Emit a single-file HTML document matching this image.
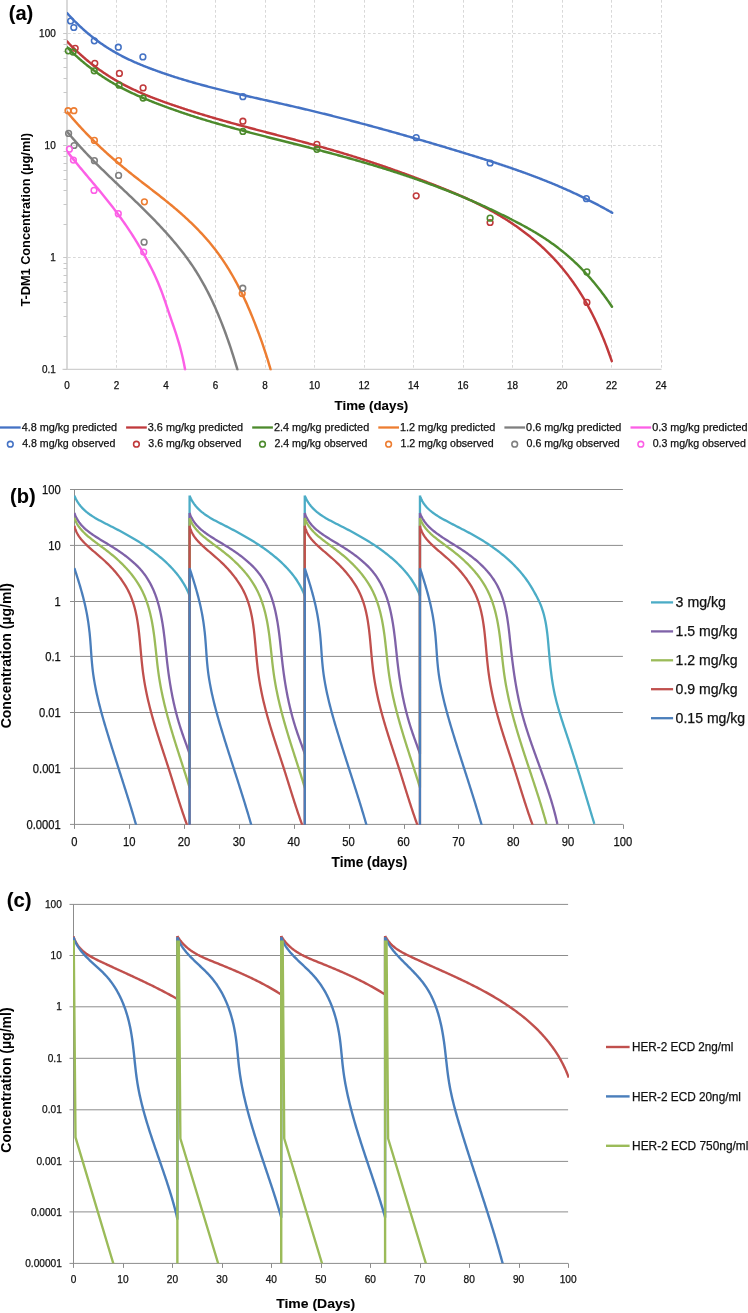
<!DOCTYPE html>
<html><head><meta charset="utf-8"><style>html,body{margin:0;padding:0;background:#fff;width:748px;height:1313px;overflow:hidden}svg{display:block;will-change:transform;opacity:0.999}</style></head>
<body><svg width="748" height="1313" viewBox="0 0 748 1313" font-family='"Liberation Sans", sans-serif'><rect width="100%" height="100%" fill="#fff"/><path d="M116.5,0.0 V369.4 M166.5,0.0 V369.4 M215.5,0.0 V369.4 M265.5,0.0 V369.4 M314.5,0.0 V369.4 M364.5,0.0 V369.4 M413.5,0.0 V369.4 M463.5,0.0 V369.4 M512.5,0.0 V369.4 M562.5,0.0 V369.4 M611.5,0.0 V369.4 M661.5,0.0 V369.4 M63.0,257.5 H661.5 M63.0,145.5 H661.5 M63.0,33.5 H661.5" stroke="#d8d8d8" stroke-width="1" stroke-dasharray="2.7,2.3" fill="none"/>
<path d="M67,0 V370" stroke="#d9d9d9" stroke-width="2" fill="none"/>
<path d="M62.5,369.4 H661.5" stroke="#d0d0d0" stroke-width="1.2" fill="none"/>
<path d="M63.5,369.5 H67 M63.5,336.5 H67 M63.5,316.5 H67 M63.5,302.5 H67 M63.5,291.5 H67 M63.5,282.5 H67 M63.5,275.5 H67 M63.5,268.5 H67 M63.5,263.5 H67 M63.5,257.5 H67 M63.5,224.5 H67 M63.5,204.5 H67 M63.5,190.5 H67 M63.5,179.5 H67 M63.5,170.5 H67 M63.5,163.5 H67 M63.5,156.5 H67 M63.5,151.5 H67 M63.5,145.5 H67 M63.5,112.5 H67 M63.5,92.5 H67 M63.5,78.5 H67 M63.5,67.5 H67 M63.5,58.5 H67 M63.5,51.5 H67 M63.5,44.5 H67 M63.5,39.5 H67 M63.5,33.5 H67" stroke="#c8c8c8" stroke-width="1" fill="none"/>
<text x="55.7" y="37.0" font-size="10.00" text-anchor="end" font-weight="normal" fill="#111" stroke="#111" stroke-width="0.25" textLength="16.6" lengthAdjust="spacingAndGlyphs">100</text>
<text x="55.7" y="149.0" font-size="10.00" text-anchor="end" font-weight="normal" fill="#111" stroke="#111" stroke-width="0.25" textLength="11.1" lengthAdjust="spacingAndGlyphs">10</text>
<text x="55.7" y="261.0" font-size="10.00" text-anchor="end" font-weight="normal" fill="#111" stroke="#111" stroke-width="0.25" textLength="5.5" lengthAdjust="spacingAndGlyphs">1</text>
<text x="55.7" y="373.0" font-size="10.00" text-anchor="end" font-weight="normal" fill="#111" stroke="#111" stroke-width="0.25" textLength="13.8" lengthAdjust="spacingAndGlyphs">0.1</text>
<text x="67.0" y="388.6" font-size="10.00" text-anchor="middle" font-weight="normal" fill="#111" stroke="#111" stroke-width="0.25" textLength="5.5" lengthAdjust="spacingAndGlyphs">0</text>
<text x="116.5" y="388.6" font-size="10.00" text-anchor="middle" font-weight="normal" fill="#111" stroke="#111" stroke-width="0.25" textLength="5.5" lengthAdjust="spacingAndGlyphs">2</text>
<text x="166.0" y="388.6" font-size="10.00" text-anchor="middle" font-weight="normal" fill="#111" stroke="#111" stroke-width="0.25" textLength="5.5" lengthAdjust="spacingAndGlyphs">4</text>
<text x="215.5" y="388.6" font-size="10.00" text-anchor="middle" font-weight="normal" fill="#111" stroke="#111" stroke-width="0.25" textLength="5.5" lengthAdjust="spacingAndGlyphs">6</text>
<text x="265.0" y="388.6" font-size="10.00" text-anchor="middle" font-weight="normal" fill="#111" stroke="#111" stroke-width="0.25" textLength="5.5" lengthAdjust="spacingAndGlyphs">8</text>
<text x="314.5" y="388.6" font-size="10.00" text-anchor="middle" font-weight="normal" fill="#111" stroke="#111" stroke-width="0.25" textLength="11.1" lengthAdjust="spacingAndGlyphs">10</text>
<text x="364.0" y="388.6" font-size="10.00" text-anchor="middle" font-weight="normal" fill="#111" stroke="#111" stroke-width="0.25" textLength="11.1" lengthAdjust="spacingAndGlyphs">12</text>
<text x="413.5" y="388.6" font-size="10.00" text-anchor="middle" font-weight="normal" fill="#111" stroke="#111" stroke-width="0.25" textLength="11.1" lengthAdjust="spacingAndGlyphs">14</text>
<text x="463.0" y="388.6" font-size="10.00" text-anchor="middle" font-weight="normal" fill="#111" stroke="#111" stroke-width="0.25" textLength="11.1" lengthAdjust="spacingAndGlyphs">16</text>
<text x="512.5" y="388.6" font-size="10.00" text-anchor="middle" font-weight="normal" fill="#111" stroke="#111" stroke-width="0.25" textLength="11.1" lengthAdjust="spacingAndGlyphs">18</text>
<text x="562.0" y="388.6" font-size="10.00" text-anchor="middle" font-weight="normal" fill="#111" stroke="#111" stroke-width="0.25" textLength="11.1" lengthAdjust="spacingAndGlyphs">20</text>
<text x="611.5" y="388.6" font-size="10.00" text-anchor="middle" font-weight="normal" fill="#111" stroke="#111" stroke-width="0.25" textLength="11.1" lengthAdjust="spacingAndGlyphs">22</text>
<text x="661.0" y="388.6" font-size="10.00" text-anchor="middle" font-weight="normal" fill="#111" stroke="#111" stroke-width="0.25" textLength="11.1" lengthAdjust="spacingAndGlyphs">24</text>
<text x="371.4" y="410.3" font-size="13.50" text-anchor="middle" font-weight="bold" fill="#000" stroke="#000" stroke-width="0.10" textLength="73.6" lengthAdjust="spacingAndGlyphs">Time (days)</text>
<text transform="translate(30.2,219.8) rotate(-90)" font-size="13.40" text-anchor="middle" font-weight="bold" textLength="173.6" lengthAdjust="spacingAndGlyphs">T-DM1 Concentration (µg/ml)</text>
<text x="8.8" y="19.8" font-size="20.00" text-anchor="start" font-weight="bold" fill="#000" stroke="#000" stroke-width="0.10" textLength="24.5" lengthAdjust="spacingAndGlyphs">(a)</text>
<clipPath id="ca"><rect x="67" y="0" width="600" height="370.4"/></clipPath>
<g clip-path="url(#ca)" fill="none" stroke-width="2.45" stroke-linecap="round" stroke-linejoin="round">
<path d="M67.00,13.00 L68.00,14.11 L69.00,15.21 L70.00,16.29 L71.00,17.36 L72.00,18.41 L73.00,19.45 L74.00,20.48 L75.00,21.49 L76.00,22.49 L77.00,23.47 L78.00,24.44 L79.00,25.40 L80.00,26.34 L81.00,27.27 L82.00,28.19 L83.00,29.10 L84.00,29.99 L85.00,30.87 L86.00,31.74 L87.00,32.60 L88.00,33.44 L89.00,34.27 L90.00,35.10 L91.00,35.91 L92.00,36.70 L93.00,37.49 L94.00,38.27 L95.00,39.03 L96.00,39.79 L97.00,40.53 L98.00,41.26 L99.00,41.99 L100.00,42.70 L101.00,43.40 L102.00,44.09 L103.00,44.77 L104.00,45.45 L105.00,46.11 L106.00,46.76 L107.00,47.41 L108.00,48.04 L109.00,48.67 L110.00,49.29 L111.00,49.90 L112.00,50.50 L113.00,51.09 L114.00,51.67 L115.00,52.25 L116.00,52.82 L117.00,53.38 L118.00,53.93 L119.00,54.47 L120.00,55.01 L121.00,55.54 L122.00,56.06 L123.00,56.58 L124.00,57.08 L125.00,57.59 L126.00,58.08 L127.00,58.57 L128.00,59.05 L129.00,59.53 L130.00,60.00 L131.00,60.47 L132.00,60.92 L133.00,61.38 L134.00,61.83 L135.00,62.27 L136.00,62.71 L137.00,63.14 L138.00,63.57 L139.00,63.99 L140.00,64.41 L141.00,64.82 L142.00,65.23 L143.00,65.63 L144.00,66.04 L145.00,66.43 L146.00,66.83 L147.00,67.22 L148.00,67.60 L149.00,67.99 L150.00,68.37 L151.00,68.74 L152.00,69.12 L153.00,69.49 L154.00,69.86 L155.00,70.22 L156.00,70.59 L157.00,70.95 L158.00,71.31 L159.00,71.66 L160.00,72.02 L161.00,72.37 L162.00,72.72 L163.00,73.06 L164.00,73.41 L165.00,73.75 L166.00,74.09 L167.00,74.43 L168.00,74.76 L169.00,75.09 L170.00,75.43 L171.00,75.75 L172.00,76.08 L173.00,76.40 L174.00,76.73 L175.00,77.05 L176.00,77.36 L177.00,77.68 L178.00,77.99 L179.00,78.31 L180.00,78.62 L181.00,78.92 L182.00,79.23 L183.00,79.53 L184.00,79.84 L185.00,80.14 L186.00,80.43 L187.00,80.73 L188.00,81.03 L189.00,81.32 L190.00,81.61 L191.00,81.90 L192.00,82.19 L193.00,82.47 L194.00,82.76 L195.00,83.04 L196.00,83.32 L197.00,83.60 L198.00,83.88 L199.00,84.16 L200.00,84.43 L201.00,84.70 L202.00,84.98 L203.00,85.25 L204.00,85.52 L205.00,85.78 L206.00,86.05 L207.00,86.31 L208.00,86.58 L209.00,86.84 L210.00,87.10 L211.00,87.36 L212.00,87.62 L213.00,87.88 L214.00,88.13 L215.00,88.39 L216.00,88.64 L217.00,88.89 L218.00,89.14 L219.00,89.39 L220.00,89.64 L221.00,89.89 L222.00,90.14 L223.00,90.38 L224.00,90.63 L225.00,90.87 L226.00,91.11 L227.00,91.36 L228.00,91.60 L229.00,91.84 L230.00,92.08 L231.00,92.32 L232.00,92.55 L233.00,92.79 L234.00,93.03 L235.00,93.26 L236.00,93.50 L237.00,93.73 L238.00,93.96 L239.00,94.20 L240.00,94.43 L241.00,94.66 L242.00,94.89 L243.00,95.12 L244.00,95.35 L245.00,95.58 L246.00,95.81 L247.00,96.04 L248.00,96.26 L249.00,96.49 L250.00,96.72 L251.00,96.94 L252.00,97.17 L253.00,97.39 L254.00,97.62 L255.00,97.85 L256.00,98.07 L257.00,98.29 L258.00,98.52 L259.00,98.74 L260.00,98.97 L261.00,99.19 L262.00,99.41 L263.00,99.64 L264.00,99.86 L265.00,100.08 L266.00,100.31 L267.00,100.53 L268.00,100.75 L269.00,100.98 L270.00,101.20 L271.00,101.42 L272.00,101.65 L273.00,101.87 L274.00,102.09 L275.00,102.32 L276.00,102.54 L277.00,102.77 L278.00,102.99 L279.00,103.21 L280.00,103.44 L281.00,103.66 L282.00,103.89 L283.00,104.12 L284.00,104.34 L285.00,104.57 L286.00,104.80 L287.00,105.02 L288.00,105.25 L289.00,105.48 L290.00,105.71 L291.00,105.94 L292.00,106.17 L293.00,106.40 L294.00,106.63 L295.00,106.86 L296.00,107.09 L297.00,107.32 L298.00,107.56 L299.00,107.79 L300.00,108.02 L301.00,108.26 L302.00,108.49 L303.00,108.73 L304.00,108.97 L305.00,109.20 L306.00,109.44 L307.00,109.68 L308.00,109.92 L309.00,110.16 L310.00,110.40 L311.00,110.64 L312.00,110.88 L313.00,111.12 L314.00,111.36 L315.00,111.61 L316.00,111.85 L317.00,112.09 L318.00,112.34 L319.00,112.58 L320.00,112.83 L321.00,113.07 L322.00,113.32 L323.00,113.57 L324.00,113.81 L325.00,114.06 L326.00,114.31 L327.00,114.56 L328.00,114.81 L329.00,115.06 L330.00,115.31 L331.00,115.56 L332.00,115.81 L333.00,116.07 L334.00,116.32 L335.00,116.57 L336.00,116.83 L337.00,117.08 L338.00,117.34 L339.00,117.59 L340.00,117.85 L341.00,118.10 L342.00,118.36 L343.00,118.62 L344.00,118.87 L345.00,119.13 L346.00,119.39 L347.00,119.65 L348.00,119.91 L349.00,120.17 L350.00,120.43 L351.00,120.69 L352.00,120.96 L353.00,121.22 L354.00,121.48 L355.00,121.74 L356.00,122.01 L357.00,122.27 L358.00,122.54 L359.00,122.80 L360.00,123.07 L361.00,123.33 L362.00,123.60 L363.00,123.87 L364.00,124.14 L365.00,124.40 L366.00,124.67 L367.00,124.94 L368.00,125.21 L369.00,125.48 L370.00,125.75 L371.00,126.02 L372.00,126.29 L373.00,126.56 L374.00,126.84 L375.00,127.11 L376.00,127.38 L377.00,127.66 L378.00,127.93 L379.00,128.20 L380.00,128.48 L381.00,128.75 L382.00,129.03 L383.00,129.31 L384.00,129.58 L385.00,129.86 L386.00,130.14 L387.00,130.41 L388.00,130.69 L389.00,130.97 L390.00,131.25 L391.00,131.53 L392.00,131.81 L393.00,132.09 L394.00,132.37 L395.00,132.65 L396.00,132.93 L397.00,133.22 L398.00,133.50 L399.00,133.78 L400.00,134.06 L401.00,134.35 L402.00,134.63 L403.00,134.92 L404.00,135.20 L405.00,135.49 L406.00,135.77 L407.00,136.06 L408.00,136.34 L409.00,136.63 L410.00,136.92 L411.00,137.21 L412.00,137.49 L413.00,137.78 L414.00,138.07 L415.00,138.36 L416.00,138.65 L417.00,138.94 L418.00,139.23 L419.00,139.52 L420.00,139.81 L421.00,140.10 L422.00,140.39 L423.00,140.69 L424.00,140.98 L425.00,141.27 L426.00,141.57 L427.00,141.86 L428.00,142.15 L429.00,142.45 L430.00,142.74 L431.00,143.04 L432.00,143.33 L433.00,143.63 L434.00,143.92 L435.00,144.22 L436.00,144.52 L437.00,144.81 L438.00,145.11 L439.00,145.41 L440.00,145.71 L441.00,146.01 L442.00,146.30 L443.00,146.60 L444.00,146.90 L445.00,147.20 L446.00,147.50 L447.00,147.80 L448.00,148.10 L449.00,148.41 L450.00,148.71 L451.00,149.01 L452.00,149.31 L453.00,149.61 L454.00,149.92 L455.00,150.22 L456.00,150.52 L457.00,150.83 L458.00,151.13 L459.00,151.43 L460.00,151.74 L461.00,152.04 L462.00,152.35 L463.00,152.65 L464.00,152.96 L465.00,153.27 L466.00,153.57 L467.00,153.88 L468.00,154.19 L469.00,154.49 L470.00,154.80 L471.00,155.11 L472.00,155.42 L473.00,155.73 L474.00,156.04 L475.00,156.35 L476.00,156.66 L477.00,156.97 L478.00,157.28 L479.00,157.60 L480.00,157.91 L481.00,158.22 L482.00,158.54 L483.00,158.85 L484.00,159.17 L485.00,159.48 L486.00,159.80 L487.00,160.12 L488.00,160.44 L489.00,160.76 L490.00,161.08 L491.00,161.40 L492.00,161.72 L493.00,162.04 L494.00,162.37 L495.00,162.69 L496.00,163.02 L497.00,163.35 L498.00,163.67 L499.00,164.00 L500.00,164.33 L501.00,164.66 L502.00,165.00 L503.00,165.33 L504.00,165.66 L505.00,166.00 L506.00,166.33 L507.00,166.67 L508.00,167.01 L509.00,167.35 L510.00,167.69 L511.00,168.03 L512.00,168.38 L513.00,168.72 L514.00,169.07 L515.00,169.42 L516.00,169.77 L517.00,170.12 L518.00,170.47 L519.00,170.82 L520.00,171.18 L521.00,171.53 L522.00,171.89 L523.00,172.25 L524.00,172.61 L525.00,172.97 L526.00,173.34 L527.00,173.70 L528.00,174.07 L529.00,174.44 L530.00,174.81 L531.00,175.18 L532.00,175.55 L533.00,175.93 L534.00,176.30 L535.00,176.68 L536.00,177.06 L537.00,177.44 L538.00,177.83 L539.00,178.21 L540.00,178.60 L541.00,178.99 L542.00,179.38 L543.00,179.78 L544.00,180.17 L545.00,180.57 L546.00,180.97 L547.00,181.37 L548.00,181.77 L549.00,182.18 L550.00,182.58 L551.00,182.99 L552.00,183.40 L553.00,183.82 L554.00,184.23 L555.00,184.65 L556.00,185.07 L557.00,185.49 L558.00,185.92 L559.00,186.34 L560.00,186.77 L561.00,187.20 L562.00,187.64 L563.00,188.07 L564.00,188.51 L565.00,188.95 L566.00,189.39 L567.00,189.84 L568.00,190.29 L569.00,190.74 L570.00,191.19 L571.00,191.64 L572.00,192.10 L573.00,192.56 L574.00,193.02 L575.00,193.49 L576.00,193.96 L577.00,194.43 L578.00,194.90 L579.00,195.37 L580.00,195.85 L581.00,196.33 L582.00,196.82 L583.00,197.30 L584.00,197.79 L585.00,198.28 L586.00,198.78 L587.00,199.28 L588.00,199.78 L589.00,200.28 L590.00,200.79 L591.00,201.29 L592.00,201.81 L593.00,202.32 L594.00,202.84 L595.00,203.36 L596.00,203.88 L597.00,204.41 L598.00,204.94 L599.00,205.47 L600.00,206.01 L601.00,206.55 L602.00,207.09 L603.00,207.63 L604.00,208.18 L605.00,208.73 L606.00,209.29 L607.00,209.84 L608.00,210.40 L609.00,210.97 L610.00,211.54 L611.00,212.11 L612.00,212.68 L612.20,212.80" stroke="#4472c4"/>
<path d="M67.00,41.39 L68.00,42.44 L69.00,43.48 L70.00,44.51 L71.00,45.52 L72.00,46.52 L73.00,47.51 L74.00,48.49 L75.00,49.46 L76.00,50.41 L77.00,51.36 L78.00,52.29 L79.00,53.21 L80.00,54.12 L81.00,55.02 L82.00,55.91 L83.00,56.79 L84.00,57.65 L85.00,58.51 L86.00,59.36 L87.00,60.19 L88.00,61.02 L89.00,61.83 L90.00,62.64 L91.00,63.43 L92.00,64.22 L93.00,64.99 L94.00,65.76 L95.00,66.51 L96.00,67.26 L97.00,68.00 L98.00,68.73 L99.00,69.45 L100.00,70.16 L101.00,70.86 L102.00,71.55 L103.00,72.24 L104.00,72.91 L105.00,73.58 L106.00,74.24 L107.00,74.89 L108.00,75.53 L109.00,76.17 L110.00,76.80 L111.00,77.42 L112.00,78.03 L113.00,78.63 L114.00,79.23 L115.00,79.82 L116.00,80.40 L117.00,80.97 L118.00,81.54 L119.00,82.10 L120.00,82.66 L121.00,83.20 L122.00,83.75 L123.00,84.28 L124.00,84.81 L125.00,85.33 L126.00,85.85 L127.00,86.35 L128.00,86.86 L129.00,87.36 L130.00,87.85 L131.00,88.33 L132.00,88.81 L133.00,89.29 L134.00,89.76 L135.00,90.22 L136.00,90.68 L137.00,91.14 L138.00,91.59 L139.00,92.03 L140.00,92.47 L141.00,92.91 L142.00,93.34 L143.00,93.77 L144.00,94.19 L145.00,94.61 L146.00,95.02 L147.00,95.43 L148.00,95.84 L149.00,96.24 L150.00,96.64 L151.00,97.04 L152.00,97.43 L153.00,97.82 L154.00,98.21 L155.00,98.59 L156.00,98.97 L157.00,99.35 L158.00,99.72 L159.00,100.10 L160.00,100.46 L161.00,100.83 L162.00,101.20 L163.00,101.56 L164.00,101.92 L165.00,102.28 L166.00,102.63 L167.00,102.99 L168.00,103.34 L169.00,103.69 L170.00,104.04 L171.00,104.39 L172.00,104.74 L173.00,105.08 L174.00,105.42 L175.00,105.77 L176.00,106.11 L177.00,106.44 L178.00,106.78 L179.00,107.12 L180.00,107.45 L181.00,107.78 L182.00,108.11 L183.00,108.44 L184.00,108.77 L185.00,109.09 L186.00,109.42 L187.00,109.74 L188.00,110.06 L189.00,110.39 L190.00,110.70 L191.00,111.02 L192.00,111.34 L193.00,111.65 L194.00,111.97 L195.00,112.28 L196.00,112.59 L197.00,112.90 L198.00,113.21 L199.00,113.52 L200.00,113.82 L201.00,114.13 L202.00,114.43 L203.00,114.74 L204.00,115.04 L205.00,115.34 L206.00,115.64 L207.00,115.94 L208.00,116.23 L209.00,116.53 L210.00,116.83 L211.00,117.12 L212.00,117.41 L213.00,117.71 L214.00,118.00 L215.00,118.29 L216.00,118.58 L217.00,118.87 L218.00,119.15 L219.00,119.44 L220.00,119.73 L221.00,120.01 L222.00,120.29 L223.00,120.58 L224.00,120.86 L225.00,121.14 L226.00,121.42 L227.00,121.70 L228.00,121.98 L229.00,122.26 L230.00,122.54 L231.00,122.81 L232.00,123.09 L233.00,123.37 L234.00,123.64 L235.00,123.92 L236.00,124.19 L237.00,124.46 L238.00,124.74 L239.00,125.01 L240.00,125.28 L241.00,125.55 L242.00,125.82 L243.00,126.09 L244.00,126.36 L245.00,126.63 L246.00,126.90 L247.00,127.16 L248.00,127.43 L249.00,127.70 L250.00,127.97 L251.00,128.23 L252.00,128.50 L253.00,128.76 L254.00,129.03 L255.00,129.29 L256.00,129.56 L257.00,129.82 L258.00,130.09 L259.00,130.35 L260.00,130.61 L261.00,130.88 L262.00,131.14 L263.00,131.40 L264.00,131.67 L265.00,131.93 L266.00,132.19 L267.00,132.45 L268.00,132.72 L269.00,132.98 L270.00,133.24 L271.00,133.50 L272.00,133.76 L273.00,134.03 L274.00,134.29 L275.00,134.55 L276.00,134.81 L277.00,135.07 L278.00,135.34 L279.00,135.60 L280.00,135.86 L281.00,136.12 L282.00,136.39 L283.00,136.65 L284.00,136.91 L285.00,137.17 L286.00,137.44 L287.00,137.70 L288.00,137.96 L289.00,138.23 L290.00,138.49 L291.00,138.75 L292.00,139.02 L293.00,139.28 L294.00,139.55 L295.00,139.81 L296.00,140.08 L297.00,140.35 L298.00,140.61 L299.00,140.88 L300.00,141.15 L301.00,141.41 L302.00,141.68 L303.00,141.95 L304.00,142.22 L305.00,142.49 L306.00,142.76 L307.00,143.03 L308.00,143.30 L309.00,143.57 L310.00,143.84 L311.00,144.12 L312.00,144.39 L313.00,144.66 L314.00,144.94 L315.00,145.21 L316.00,145.49 L317.00,145.77 L318.00,146.04 L319.00,146.32 L320.00,146.60 L321.00,146.88 L322.00,147.16 L323.00,147.44 L324.00,147.72 L325.00,148.00 L326.00,148.29 L327.00,148.57 L328.00,148.86 L329.00,149.14 L330.00,149.43 L331.00,149.72 L332.00,150.01 L333.00,150.30 L334.00,150.59 L335.00,150.88 L336.00,151.17 L337.00,151.46 L338.00,151.76 L339.00,152.05 L340.00,152.35 L341.00,152.65 L342.00,152.95 L343.00,153.25 L344.00,153.55 L345.00,153.85 L346.00,154.15 L347.00,154.46 L348.00,154.76 L349.00,155.07 L350.00,155.37 L351.00,155.68 L352.00,155.99 L353.00,156.30 L354.00,156.61 L355.00,156.93 L356.00,157.24 L357.00,157.55 L358.00,157.87 L359.00,158.19 L360.00,158.50 L361.00,158.82 L362.00,159.14 L363.00,159.46 L364.00,159.78 L365.00,160.11 L366.00,160.43 L367.00,160.76 L368.00,161.08 L369.00,161.41 L370.00,161.74 L371.00,162.07 L372.00,162.40 L373.00,162.73 L374.00,163.06 L375.00,163.39 L376.00,163.73 L377.00,164.06 L378.00,164.40 L379.00,164.74 L380.00,165.08 L381.00,165.41 L382.00,165.76 L383.00,166.10 L384.00,166.44 L385.00,166.78 L386.00,167.13 L387.00,167.47 L388.00,167.82 L389.00,168.17 L390.00,168.52 L391.00,168.87 L392.00,169.22 L393.00,169.57 L394.00,169.92 L395.00,170.28 L396.00,170.63 L397.00,170.99 L398.00,171.34 L399.00,171.70 L400.00,172.06 L401.00,172.42 L402.00,172.78 L403.00,173.14 L404.00,173.51 L405.00,173.87 L406.00,174.23 L407.00,174.60 L408.00,174.97 L409.00,175.34 L410.00,175.70 L411.00,176.07 L412.00,176.45 L413.00,176.82 L414.00,177.19 L415.00,177.57 L416.00,177.94 L417.00,178.32 L418.00,178.69 L419.00,179.07 L420.00,179.45 L421.00,179.83 L422.00,180.21 L423.00,180.59 L424.00,180.98 L425.00,181.36 L426.00,181.75 L427.00,182.13 L428.00,182.52 L429.00,182.91 L430.00,183.30 L431.00,183.69 L432.00,184.08 L433.00,184.47 L434.00,184.86 L435.00,185.26 L436.00,185.65 L437.00,186.05 L438.00,186.44 L439.00,186.84 L440.00,187.24 L441.00,187.64 L442.00,188.04 L443.00,188.44 L444.00,188.85 L445.00,189.25 L446.00,189.66 L447.00,190.06 L448.00,190.47 L449.00,190.88 L450.00,191.30 L451.00,191.71 L452.00,192.13 L453.00,192.54 L454.00,192.96 L455.00,193.39 L456.00,193.81 L457.00,194.24 L458.00,194.66 L459.00,195.10 L460.00,195.53 L461.00,195.96 L462.00,196.40 L463.00,196.84 L464.00,197.29 L465.00,197.73 L466.00,198.18 L467.00,198.64 L468.00,199.09 L469.00,199.55 L470.00,200.01 L471.00,200.48 L472.00,200.95 L473.00,201.42 L474.00,201.90 L475.00,202.37 L476.00,202.86 L477.00,203.34 L478.00,203.83 L479.00,204.33 L480.00,204.83 L481.00,205.33 L482.00,205.84 L483.00,206.35 L484.00,206.86 L485.00,207.38 L486.00,207.91 L487.00,208.44 L488.00,208.97 L489.00,209.51 L490.00,210.05 L491.00,210.60 L492.00,211.15 L493.00,211.71 L494.00,212.27 L495.00,212.84 L496.00,213.41 L497.00,213.99 L498.00,214.57 L499.00,215.16 L500.00,215.76 L501.00,216.36 L502.00,216.97 L503.00,217.58 L504.00,218.20 L505.00,218.82 L506.00,219.45 L507.00,220.08 L508.00,220.73 L509.00,221.37 L510.00,222.03 L511.00,222.69 L512.00,223.36 L513.00,224.03 L514.00,224.71 L515.00,225.40 L516.00,226.09 L517.00,226.80 L518.00,227.50 L519.00,228.22 L520.00,228.94 L521.00,229.67 L522.00,230.41 L523.00,231.15 L524.00,231.90 L525.00,232.66 L526.00,233.43 L527.00,234.20 L528.00,234.98 L529.00,235.77 L530.00,236.57 L531.00,237.37 L532.00,238.19 L533.00,239.01 L534.00,239.84 L535.00,240.68 L536.00,241.53 L537.00,242.39 L538.00,243.26 L539.00,244.13 L540.00,245.02 L541.00,245.92 L542.00,246.83 L543.00,247.76 L544.00,248.69 L545.00,249.64 L546.00,250.60 L547.00,251.57 L548.00,252.55 L549.00,253.55 L550.00,254.55 L551.00,255.58 L552.00,256.61 L553.00,257.67 L554.00,258.73 L555.00,259.81 L556.00,260.91 L557.00,262.02 L558.00,263.14 L559.00,264.28 L560.00,265.44 L561.00,266.62 L562.00,267.81 L563.00,269.01 L564.00,270.24 L565.00,271.48 L566.00,272.74 L567.00,274.02 L568.00,275.31 L569.00,276.63 L570.00,277.96 L571.00,279.32 L572.00,280.69 L573.00,282.08 L574.00,283.50 L575.00,284.93 L576.00,286.39 L577.00,287.87 L578.00,289.38 L579.00,290.91 L580.00,292.47 L581.00,294.05 L582.00,295.66 L583.00,297.31 L584.00,298.98 L585.00,300.68 L586.00,302.41 L587.00,304.18 L588.00,305.98 L589.00,307.81 L590.00,309.68 L591.00,311.58 L592.00,313.53 L593.00,315.50 L594.00,317.52 L595.00,319.58 L596.00,321.68 L597.00,323.82 L598.00,326.00 L599.00,328.23 L600.00,330.50 L601.00,332.82 L602.00,335.19 L603.00,337.61 L604.00,340.08 L605.00,342.60 L606.00,345.17 L607.00,347.80 L608.00,350.48 L609.00,353.22 L610.00,356.01 L611.00,358.87 L611.80,361.19" stroke="#c0393b"/>
<path d="M67.00,47.19 L68.00,48.19 L69.00,49.17 L70.00,50.15 L71.00,51.12 L72.00,52.07 L73.00,53.02 L74.00,53.95 L75.00,54.88 L76.00,55.79 L77.00,56.70 L78.00,57.59 L79.00,58.48 L80.00,59.35 L81.00,60.22 L82.00,61.07 L83.00,61.92 L84.00,62.75 L85.00,63.58 L86.00,64.40 L87.00,65.21 L88.00,66.00 L89.00,66.79 L90.00,67.57 L91.00,68.34 L92.00,69.11 L93.00,69.86 L94.00,70.60 L95.00,71.34 L96.00,72.06 L97.00,72.78 L98.00,73.49 L99.00,74.19 L100.00,74.88 L101.00,75.56 L102.00,76.24 L103.00,76.90 L104.00,77.56 L105.00,78.21 L106.00,78.85 L107.00,79.49 L108.00,80.11 L109.00,80.73 L110.00,81.34 L111.00,81.94 L112.00,82.53 L113.00,83.12 L114.00,83.70 L115.00,84.27 L116.00,84.84 L117.00,85.40 L118.00,85.95 L119.00,86.50 L120.00,87.03 L121.00,87.57 L122.00,88.09 L123.00,88.61 L124.00,89.13 L125.00,89.63 L126.00,90.14 L127.00,90.63 L128.00,91.12 L129.00,91.61 L130.00,92.09 L131.00,92.57 L132.00,93.04 L133.00,93.50 L134.00,93.96 L135.00,94.42 L136.00,94.87 L137.00,95.32 L138.00,95.76 L139.00,96.20 L140.00,96.64 L141.00,97.07 L142.00,97.50 L143.00,97.92 L144.00,98.34 L145.00,98.76 L146.00,99.17 L147.00,99.58 L148.00,99.99 L149.00,100.40 L150.00,100.80 L151.00,101.20 L152.00,101.60 L153.00,101.99 L154.00,102.38 L155.00,102.77 L156.00,103.16 L157.00,103.55 L158.00,103.93 L159.00,104.32 L160.00,104.70 L161.00,105.07 L162.00,105.45 L163.00,105.83 L164.00,106.20 L165.00,106.57 L166.00,106.94 L167.00,107.30 L168.00,107.67 L169.00,108.03 L170.00,108.39 L171.00,108.75 L172.00,109.11 L173.00,109.46 L174.00,109.81 L175.00,110.17 L176.00,110.52 L177.00,110.86 L178.00,111.21 L179.00,111.55 L180.00,111.90 L181.00,112.24 L182.00,112.58 L183.00,112.91 L184.00,113.25 L185.00,113.58 L186.00,113.92 L187.00,114.25 L188.00,114.58 L189.00,114.90 L190.00,115.23 L191.00,115.56 L192.00,115.88 L193.00,116.20 L194.00,116.52 L195.00,116.84 L196.00,117.16 L197.00,117.47 L198.00,117.79 L199.00,118.10 L200.00,118.41 L201.00,118.72 L202.00,119.03 L203.00,119.34 L204.00,119.64 L205.00,119.95 L206.00,120.25 L207.00,120.55 L208.00,120.85 L209.00,121.15 L210.00,121.45 L211.00,121.75 L212.00,122.05 L213.00,122.34 L214.00,122.63 L215.00,122.93 L216.00,123.22 L217.00,123.51 L218.00,123.80 L219.00,124.08 L220.00,124.37 L221.00,124.66 L222.00,124.94 L223.00,125.23 L224.00,125.51 L225.00,125.79 L226.00,126.07 L227.00,126.35 L228.00,126.63 L229.00,126.91 L230.00,127.18 L231.00,127.46 L232.00,127.73 L233.00,128.01 L234.00,128.28 L235.00,128.56 L236.00,128.83 L237.00,129.10 L238.00,129.37 L239.00,129.64 L240.00,129.91 L241.00,130.17 L242.00,130.44 L243.00,130.71 L244.00,130.97 L245.00,131.24 L246.00,131.50 L247.00,131.77 L248.00,132.03 L249.00,132.29 L250.00,132.56 L251.00,132.82 L252.00,133.08 L253.00,133.34 L254.00,133.60 L255.00,133.86 L256.00,134.12 L257.00,134.37 L258.00,134.63 L259.00,134.89 L260.00,135.15 L261.00,135.40 L262.00,135.66 L263.00,135.92 L264.00,136.17 L265.00,136.43 L266.00,136.68 L267.00,136.94 L268.00,137.19 L269.00,137.44 L270.00,137.70 L271.00,137.95 L272.00,138.20 L273.00,138.46 L274.00,138.71 L275.00,138.96 L276.00,139.22 L277.00,139.47 L278.00,139.72 L279.00,139.97 L280.00,140.22 L281.00,140.48 L282.00,140.73 L283.00,140.98 L284.00,141.23 L285.00,141.48 L286.00,141.73 L287.00,141.99 L288.00,142.24 L289.00,142.49 L290.00,142.74 L291.00,142.99 L292.00,143.25 L293.00,143.50 L294.00,143.75 L295.00,144.00 L296.00,144.25 L297.00,144.51 L298.00,144.76 L299.00,145.01 L300.00,145.27 L301.00,145.52 L302.00,145.77 L303.00,146.03 L304.00,146.28 L305.00,146.54 L306.00,146.79 L307.00,147.05 L308.00,147.30 L309.00,147.56 L310.00,147.82 L311.00,148.07 L312.00,148.33 L313.00,148.59 L314.00,148.85 L315.00,149.10 L316.00,149.36 L317.00,149.62 L318.00,149.88 L319.00,150.14 L320.00,150.41 L321.00,150.67 L322.00,150.93 L323.00,151.19 L324.00,151.46 L325.00,151.72 L326.00,151.98 L327.00,152.25 L328.00,152.51 L329.00,152.78 L330.00,153.05 L331.00,153.31 L332.00,153.58 L333.00,153.85 L334.00,154.12 L335.00,154.39 L336.00,154.66 L337.00,154.93 L338.00,155.20 L339.00,155.48 L340.00,155.75 L341.00,156.02 L342.00,156.30 L343.00,156.57 L344.00,156.85 L345.00,157.12 L346.00,157.40 L347.00,157.68 L348.00,157.96 L349.00,158.24 L350.00,158.52 L351.00,158.80 L352.00,159.08 L353.00,159.36 L354.00,159.65 L355.00,159.93 L356.00,160.22 L357.00,160.50 L358.00,160.79 L359.00,161.08 L360.00,161.37 L361.00,161.66 L362.00,161.95 L363.00,162.24 L364.00,162.53 L365.00,162.82 L366.00,163.11 L367.00,163.41 L368.00,163.70 L369.00,164.00 L370.00,164.30 L371.00,164.60 L372.00,164.89 L373.00,165.19 L374.00,165.50 L375.00,165.80 L376.00,166.10 L377.00,166.40 L378.00,166.71 L379.00,167.01 L380.00,167.32 L381.00,167.63 L382.00,167.94 L383.00,168.25 L384.00,168.56 L385.00,168.87 L386.00,169.18 L387.00,169.50 L388.00,169.81 L389.00,170.13 L390.00,170.45 L391.00,170.76 L392.00,171.08 L393.00,171.40 L394.00,171.73 L395.00,172.05 L396.00,172.37 L397.00,172.70 L398.00,173.02 L399.00,173.35 L400.00,173.68 L401.00,174.01 L402.00,174.34 L403.00,174.67 L404.00,175.01 L405.00,175.34 L406.00,175.68 L407.00,176.01 L408.00,176.35 L409.00,176.69 L410.00,177.03 L411.00,177.37 L412.00,177.71 L413.00,178.06 L414.00,178.40 L415.00,178.75 L416.00,179.10 L417.00,179.45 L418.00,179.80 L419.00,180.15 L420.00,180.50 L421.00,180.86 L422.00,181.21 L423.00,181.57 L424.00,181.93 L425.00,182.29 L426.00,182.65 L427.00,183.02 L428.00,183.38 L429.00,183.74 L430.00,184.11 L431.00,184.48 L432.00,184.85 L433.00,185.22 L434.00,185.59 L435.00,185.97 L436.00,186.34 L437.00,186.72 L438.00,187.10 L439.00,187.48 L440.00,187.86 L441.00,188.24 L442.00,188.63 L443.00,189.01 L444.00,189.40 L445.00,189.79 L446.00,190.18 L447.00,190.57 L448.00,190.97 L449.00,191.36 L450.00,191.76 L451.00,192.16 L452.00,192.56 L453.00,192.96 L454.00,193.36 L455.00,193.76 L456.00,194.17 L457.00,194.58 L458.00,194.99 L459.00,195.40 L460.00,195.81 L461.00,196.23 L462.00,196.64 L463.00,197.06 L464.00,197.48 L465.00,197.90 L466.00,198.32 L467.00,198.75 L468.00,199.17 L469.00,199.60 L470.00,200.03 L471.00,200.46 L472.00,200.89 L473.00,201.33 L474.00,201.77 L475.00,202.20 L476.00,202.64 L477.00,203.09 L478.00,203.53 L479.00,203.97 L480.00,204.42 L481.00,204.87 L482.00,205.32 L483.00,205.77 L484.00,206.23 L485.00,206.69 L486.00,207.14 L487.00,207.60 L488.00,208.07 L489.00,208.53 L490.00,208.99 L491.00,209.46 L492.00,209.93 L493.00,210.40 L494.00,210.88 L495.00,211.35 L496.00,211.83 L497.00,212.31 L498.00,212.79 L499.00,213.27 L500.00,213.76 L501.00,214.24 L502.00,214.73 L503.00,215.22 L504.00,215.72 L505.00,216.21 L506.00,216.71 L507.00,217.21 L508.00,217.71 L509.00,218.21 L510.00,218.72 L511.00,219.22 L512.00,219.73 L513.00,220.24 L514.00,220.76 L515.00,221.27 L516.00,221.79 L517.00,222.31 L518.00,222.83 L519.00,223.36 L520.00,223.89 L521.00,224.42 L522.00,224.96 L523.00,225.50 L524.00,226.04 L525.00,226.59 L526.00,227.14 L527.00,227.69 L528.00,228.25 L529.00,228.82 L530.00,229.39 L531.00,229.96 L532.00,230.54 L533.00,231.12 L534.00,231.71 L535.00,232.31 L536.00,232.91 L537.00,233.51 L538.00,234.12 L539.00,234.74 L540.00,235.36 L541.00,235.99 L542.00,236.63 L543.00,237.27 L544.00,237.92 L545.00,238.58 L546.00,239.24 L547.00,239.92 L548.00,240.59 L549.00,241.28 L550.00,241.98 L551.00,242.68 L552.00,243.39 L553.00,244.11 L554.00,244.83 L555.00,245.57 L556.00,246.31 L557.00,247.07 L558.00,247.83 L559.00,248.60 L560.00,249.38 L561.00,250.17 L562.00,250.97 L563.00,251.78 L564.00,252.60 L565.00,253.43 L566.00,254.27 L567.00,255.12 L568.00,255.98 L569.00,256.85 L570.00,257.73 L571.00,258.63 L572.00,259.53 L573.00,260.45 L574.00,261.37 L575.00,262.31 L576.00,263.26 L577.00,264.23 L578.00,265.20 L579.00,266.19 L580.00,267.19 L581.00,268.20 L582.00,269.23 L583.00,270.26 L584.00,271.32 L585.00,272.38 L586.00,273.46 L587.00,274.55 L588.00,275.65 L589.00,276.77 L590.00,277.91 L591.00,279.05 L592.00,280.21 L593.00,281.39 L594.00,282.58 L595.00,283.79 L596.00,285.01 L597.00,286.24 L598.00,287.49 L599.00,288.76 L600.00,290.04 L601.00,291.34 L602.00,292.65 L603.00,293.98 L604.00,295.33 L605.00,296.69 L606.00,298.07 L607.00,299.46 L608.00,300.87 L609.00,302.30 L610.00,303.75 L611.00,305.21 L612.00,306.69" stroke="#4c8a2c"/>
<path d="M67.00,111.81 L68.00,113.01 L69.00,114.20 L70.00,115.38 L71.00,116.55 L72.00,117.72 L73.00,118.87 L74.00,120.01 L75.00,121.15 L76.00,122.27 L77.00,123.39 L78.00,124.50 L79.00,125.60 L80.00,126.69 L81.00,127.77 L82.00,128.85 L83.00,129.91 L84.00,130.97 L85.00,132.02 L86.00,133.06 L87.00,134.10 L88.00,135.12 L89.00,136.14 L90.00,137.15 L91.00,138.16 L92.00,139.16 L93.00,140.15 L94.00,141.13 L95.00,142.10 L96.00,143.07 L97.00,144.04 L98.00,144.99 L99.00,145.94 L100.00,146.89 L101.00,147.82 L102.00,148.75 L103.00,149.68 L104.00,150.60 L105.00,151.51 L106.00,152.42 L107.00,153.32 L108.00,154.22 L109.00,155.11 L110.00,155.99 L111.00,156.87 L112.00,157.75 L113.00,158.62 L114.00,159.48 L115.00,160.34 L116.00,161.20 L117.00,162.05 L118.00,162.90 L119.00,163.74 L120.00,164.58 L121.00,165.41 L122.00,166.24 L123.00,167.07 L124.00,167.89 L125.00,168.71 L126.00,169.53 L127.00,170.34 L128.00,171.15 L129.00,171.95 L130.00,172.76 L131.00,173.55 L132.00,174.35 L133.00,175.14 L134.00,175.93 L135.00,176.72 L136.00,177.51 L137.00,178.29 L138.00,179.07 L139.00,179.85 L140.00,180.63 L141.00,181.40 L142.00,182.18 L143.00,182.95 L144.00,183.72 L145.00,184.50 L146.00,185.27 L147.00,186.04 L148.00,186.81 L149.00,187.58 L150.00,188.35 L151.00,189.12 L152.00,189.90 L153.00,190.67 L154.00,191.44 L155.00,192.22 L156.00,193.00 L157.00,193.78 L158.00,194.56 L159.00,195.34 L160.00,196.13 L161.00,196.92 L162.00,197.71 L163.00,198.50 L164.00,199.30 L165.00,200.10 L166.00,200.90 L167.00,201.71 L168.00,202.52 L169.00,203.34 L170.00,204.16 L171.00,204.98 L172.00,205.81 L173.00,206.64 L174.00,207.48 L175.00,208.33 L176.00,209.18 L177.00,210.03 L178.00,210.90 L179.00,211.76 L180.00,212.64 L181.00,213.52 L182.00,214.41 L183.00,215.30 L184.00,216.21 L185.00,217.11 L186.00,218.03 L187.00,218.96 L188.00,219.89 L189.00,220.83 L190.00,221.78 L191.00,222.74 L192.00,223.70 L193.00,224.68 L194.00,225.66 L195.00,226.66 L196.00,227.66 L197.00,228.68 L198.00,229.70 L199.00,230.74 L200.00,231.78 L201.00,232.84 L202.00,233.92 L203.00,235.00 L204.00,236.10 L205.00,237.22 L206.00,238.35 L207.00,239.49 L208.00,240.65 L209.00,241.83 L210.00,243.03 L211.00,244.24 L212.00,245.47 L213.00,246.72 L214.00,247.99 L215.00,249.28 L216.00,250.59 L217.00,251.92 L218.00,253.27 L219.00,254.64 L220.00,256.04 L221.00,257.46 L222.00,258.90 L223.00,260.37 L224.00,261.86 L225.00,263.38 L226.00,264.92 L227.00,266.49 L228.00,268.08 L229.00,269.71 L230.00,271.36 L231.00,273.04 L232.00,274.75 L233.00,276.49 L234.00,278.25 L235.00,280.05 L236.00,281.88 L237.00,283.75 L238.00,285.64 L239.00,287.57 L240.00,289.54 L241.00,291.54 L242.00,293.58 L243.00,295.65 L244.00,297.77 L245.00,299.93 L246.00,302.13 L247.00,304.37 L248.00,306.65 L249.00,308.97 L250.00,311.33 L251.00,313.72 L252.00,316.15 L253.00,318.62 L254.00,321.12 L255.00,323.65 L256.00,326.22 L257.00,328.82 L258.00,331.45 L259.00,334.13 L260.00,336.85 L261.00,339.62 L262.00,342.44 L263.00,345.32 L264.00,348.27 L265.00,351.27 L266.00,354.35 L267.00,357.50 L268.00,360.72 L269.00,364.03 L270.00,367.42 L270.60,369.50" stroke="#ed7d31"/>
<path d="M67.00,131.49 L68.00,132.70 L69.00,133.89 L70.00,135.08 L71.00,136.26 L72.00,137.43 L73.00,138.59 L74.00,139.74 L75.00,140.89 L76.00,142.02 L77.00,143.15 L78.00,144.27 L79.00,145.38 L80.00,146.49 L81.00,147.59 L82.00,148.68 L83.00,149.76 L84.00,150.84 L85.00,151.91 L86.00,152.97 L87.00,154.03 L88.00,155.08 L89.00,156.13 L90.00,157.17 L91.00,158.20 L92.00,159.23 L93.00,160.25 L94.00,161.27 L95.00,162.29 L96.00,163.29 L97.00,164.30 L98.00,165.30 L99.00,166.29 L100.00,167.29 L101.00,168.27 L102.00,169.26 L103.00,170.24 L104.00,171.22 L105.00,172.19 L106.00,173.16 L107.00,174.13 L108.00,175.10 L109.00,176.06 L110.00,177.02 L111.00,177.98 L112.00,178.94 L113.00,179.89 L114.00,180.84 L115.00,181.80 L116.00,182.75 L117.00,183.70 L118.00,184.65 L119.00,185.59 L120.00,186.54 L121.00,187.49 L122.00,188.44 L123.00,189.38 L124.00,190.33 L125.00,191.28 L126.00,192.22 L127.00,193.17 L128.00,194.12 L129.00,195.07 L130.00,196.02 L131.00,196.98 L132.00,197.93 L133.00,198.89 L134.00,199.84 L135.00,200.80 L136.00,201.77 L137.00,202.73 L138.00,203.70 L139.00,204.67 L140.00,205.64 L141.00,206.62 L142.00,207.59 L143.00,208.58 L144.00,209.56 L145.00,210.55 L146.00,211.55 L147.00,212.54 L148.00,213.55 L149.00,214.55 L150.00,215.56 L151.00,216.58 L152.00,217.60 L153.00,218.63 L154.00,219.66 L155.00,220.69 L156.00,221.74 L157.00,222.78 L158.00,223.84 L159.00,224.90 L160.00,225.97 L161.00,227.04 L162.00,228.12 L163.00,229.21 L164.00,230.30 L165.00,231.40 L166.00,232.51 L167.00,233.63 L168.00,234.75 L169.00,235.88 L170.00,237.02 L171.00,238.17 L172.00,239.33 L173.00,240.49 L174.00,241.67 L175.00,242.85 L176.00,244.04 L177.00,245.25 L178.00,246.46 L179.00,247.69 L180.00,248.93 L181.00,250.19 L182.00,251.46 L183.00,252.75 L184.00,254.05 L185.00,255.37 L186.00,256.71 L187.00,258.07 L188.00,259.44 L189.00,260.84 L190.00,262.26 L191.00,263.70 L192.00,265.17 L193.00,266.66 L194.00,268.17 L195.00,269.71 L196.00,271.28 L197.00,272.87 L198.00,274.49 L199.00,276.14 L200.00,277.82 L201.00,279.53 L202.00,281.27 L203.00,283.04 L204.00,284.85 L205.00,286.69 L206.00,288.56 L207.00,290.47 L208.00,292.41 L209.00,294.39 L210.00,296.41 L211.00,298.47 L212.00,300.57 L213.00,302.71 L214.00,304.88 L215.00,307.10 L216.00,309.37 L217.00,311.67 L218.00,314.02 L219.00,316.42 L220.00,318.86 L221.00,321.35 L222.00,323.88 L223.00,326.46 L224.00,329.10 L225.00,331.78 L226.00,334.51 L227.00,337.30 L228.00,340.13 L229.00,343.02 L230.00,345.97 L231.00,348.96 L232.00,352.02 L233.00,355.13 L234.00,358.30 L235.00,361.52 L236.00,364.81 L237.00,368.15 L237.40,369.50" stroke="#7f7f7f"/>
<path d="M67.00,151.30 L68.00,152.58 L69.00,153.85 L70.00,155.12 L71.00,156.38 L72.00,157.63 L73.00,158.87 L74.00,160.11 L75.00,161.34 L76.00,162.57 L77.00,163.79 L78.00,165.00 L79.00,166.22 L80.00,167.42 L81.00,168.63 L82.00,169.83 L83.00,171.02 L84.00,172.22 L85.00,173.41 L86.00,174.60 L87.00,175.79 L88.00,176.98 L89.00,178.17 L90.00,179.35 L91.00,180.54 L92.00,181.73 L93.00,182.92 L94.00,184.11 L95.00,185.30 L96.00,186.50 L97.00,187.70 L98.00,188.90 L99.00,190.10 L100.00,191.31 L101.00,192.53 L102.00,193.74 L103.00,194.97 L104.00,196.19 L105.00,197.43 L106.00,198.67 L107.00,199.92 L108.00,201.17 L109.00,202.43 L110.00,203.70 L111.00,204.98 L112.00,206.27 L113.00,207.56 L114.00,208.87 L115.00,210.18 L116.00,211.51 L117.00,212.85 L118.00,214.19 L119.00,215.55 L120.00,216.92 L121.00,218.31 L122.00,219.70 L123.00,221.11 L124.00,222.54 L125.00,223.97 L126.00,225.42 L127.00,226.89 L128.00,228.37 L129.00,229.87 L130.00,231.38 L131.00,232.91 L132.00,234.45 L133.00,236.02 L134.00,237.60 L135.00,239.19 L136.00,240.81 L137.00,242.45 L138.00,244.10 L139.00,245.77 L140.00,247.47 L141.00,249.18 L142.00,250.92 L143.00,252.67 L144.00,254.45 L145.00,256.25 L146.00,258.07 L147.00,259.92 L148.00,261.79 L149.00,263.68 L150.00,265.60 L151.00,267.55 L152.00,269.53 L153.00,271.56 L154.00,273.64 L155.00,275.77 L156.00,277.97 L157.00,280.22 L158.00,282.55 L159.00,284.95 L160.00,287.43 L161.00,289.99 L162.00,292.65 L163.00,295.40 L164.00,298.24 L165.00,301.14 L166.00,304.09 L167.00,307.07 L168.00,310.06 L169.00,313.05 L170.00,316.00 L171.00,318.93 L172.00,321.84 L173.00,324.76 L174.00,327.69 L175.00,330.67 L176.00,333.71 L177.00,336.83 L178.00,340.05 L179.00,343.41 L180.00,346.94 L181.00,350.71 L182.00,354.74 L183.00,359.10 L184.00,363.82 L185.00,368.95 L185.10,369.49" stroke="#fc5fe6"/>
</g>
<g fill="none" stroke-width="1.55">
<circle cx="70.6" cy="21.0" r="2.85" stroke="#4472c4"/>
<circle cx="73.8" cy="27.5" r="2.85" stroke="#4472c4"/>
<circle cx="94.3" cy="40.8" r="2.85" stroke="#4472c4"/>
<circle cx="118.3" cy="47.2" r="2.85" stroke="#4472c4"/>
<circle cx="142.9" cy="56.9" r="2.85" stroke="#4472c4"/>
<circle cx="242.9" cy="96.7" r="2.85" stroke="#4472c4"/>
<circle cx="416.2" cy="137.7" r="2.85" stroke="#4472c4"/>
<circle cx="490.1" cy="163.0" r="2.85" stroke="#4472c4"/>
<circle cx="586.4" cy="198.7" r="2.85" stroke="#4472c4"/>
<circle cx="75.2" cy="48.3" r="2.85" stroke="#c0393b"/>
<circle cx="94.8" cy="63.3" r="2.85" stroke="#c0393b"/>
<circle cx="119.4" cy="73.4" r="2.85" stroke="#c0393b"/>
<circle cx="143.1" cy="87.9" r="2.85" stroke="#c0393b"/>
<circle cx="242.9" cy="121.2" r="2.85" stroke="#c0393b"/>
<circle cx="316.9" cy="144.4" r="2.85" stroke="#c0393b"/>
<circle cx="416.2" cy="195.8" r="2.85" stroke="#c0393b"/>
<circle cx="490.1" cy="222.5" r="2.85" stroke="#c0393b"/>
<circle cx="586.9" cy="302.4" r="2.85" stroke="#c0393b"/>
<circle cx="68.3" cy="50.8" r="2.85" stroke="#4c8a2c"/>
<circle cx="73.1" cy="52.1" r="2.85" stroke="#4c8a2c"/>
<circle cx="94.2" cy="70.8" r="2.85" stroke="#4c8a2c"/>
<circle cx="119.1" cy="85.2" r="2.85" stroke="#4c8a2c"/>
<circle cx="143.1" cy="98.0" r="2.85" stroke="#4c8a2c"/>
<circle cx="242.9" cy="131.5" r="2.85" stroke="#4c8a2c"/>
<circle cx="316.9" cy="149.3" r="2.85" stroke="#4c8a2c"/>
<circle cx="490.1" cy="218.2" r="2.85" stroke="#4c8a2c"/>
<circle cx="586.9" cy="271.9" r="2.85" stroke="#4c8a2c"/>
<circle cx="68.0" cy="110.7" r="2.85" stroke="#ed7d31"/>
<circle cx="73.9" cy="110.7" r="2.85" stroke="#ed7d31"/>
<circle cx="94.4" cy="140.4" r="2.85" stroke="#ed7d31"/>
<circle cx="118.6" cy="160.7" r="2.85" stroke="#ed7d31"/>
<circle cx="144.4" cy="201.8" r="2.85" stroke="#ed7d31"/>
<circle cx="242.2" cy="293.5" r="2.85" stroke="#ed7d31"/>
<circle cx="68.6" cy="133.4" r="2.85" stroke="#7f7f7f"/>
<circle cx="74.1" cy="145.5" r="2.85" stroke="#7f7f7f"/>
<circle cx="94.4" cy="160.7" r="2.85" stroke="#7f7f7f"/>
<circle cx="118.6" cy="175.4" r="2.85" stroke="#7f7f7f"/>
<circle cx="144.1" cy="242.2" r="2.85" stroke="#7f7f7f"/>
<circle cx="242.8" cy="288.2" r="2.85" stroke="#7f7f7f"/>
<circle cx="69.4" cy="149.2" r="2.85" stroke="#fc5fe6"/>
<circle cx="73.4" cy="160.1" r="2.85" stroke="#fc5fe6"/>
<circle cx="94.0" cy="190.4" r="2.85" stroke="#fc5fe6"/>
<circle cx="118.3" cy="213.7" r="2.85" stroke="#fc5fe6"/>
<circle cx="143.7" cy="252.2" r="2.85" stroke="#fc5fe6"/>
</g>
<path d="M0.0,427.5 H20.7" stroke="#4472c4" stroke-width="2.3"/>
<text x="21.7" y="431.0" font-size="10.30" text-anchor="start" font-weight="normal" fill="#111" stroke="#111" stroke-width="0.25" textLength="95.3" lengthAdjust="spacingAndGlyphs">4.8 mg/kg predicted</text>
<circle cx="10.3" cy="444.2" r="2.85" stroke="#4472c4" fill="none" stroke-width="1.55"/>
<text x="22.2" y="447.0" font-size="10.30" text-anchor="start" font-weight="normal" fill="#111" stroke="#111" stroke-width="0.25" textLength="93.1" lengthAdjust="spacingAndGlyphs">4.8 mg/kg observed</text>
<path d="M126.1,427.5 H146.8" stroke="#c0393b" stroke-width="2.3"/>
<text x="147.8" y="431.0" font-size="10.30" text-anchor="start" font-weight="normal" fill="#111" stroke="#111" stroke-width="0.25" textLength="95.3" lengthAdjust="spacingAndGlyphs">3.6 mg/kg predicted</text>
<circle cx="136.4" cy="444.2" r="2.85" stroke="#c0393b" fill="none" stroke-width="1.55"/>
<text x="148.3" y="447.0" font-size="10.30" text-anchor="start" font-weight="normal" fill="#111" stroke="#111" stroke-width="0.25" textLength="93.1" lengthAdjust="spacingAndGlyphs">3.6 mg/kg observed</text>
<path d="M252.2,427.5 H272.9" stroke="#4c8a2c" stroke-width="2.3"/>
<text x="273.9" y="431.0" font-size="10.30" text-anchor="start" font-weight="normal" fill="#111" stroke="#111" stroke-width="0.25" textLength="95.3" lengthAdjust="spacingAndGlyphs">2.4 mg/kg predicted</text>
<circle cx="262.5" cy="444.2" r="2.85" stroke="#4c8a2c" fill="none" stroke-width="1.55"/>
<text x="274.4" y="447.0" font-size="10.30" text-anchor="start" font-weight="normal" fill="#111" stroke="#111" stroke-width="0.25" textLength="93.1" lengthAdjust="spacingAndGlyphs">2.4 mg/kg observed</text>
<path d="M378.3,427.5 H399.0" stroke="#ed7d31" stroke-width="2.3"/>
<text x="400.0" y="431.0" font-size="10.30" text-anchor="start" font-weight="normal" fill="#111" stroke="#111" stroke-width="0.25" textLength="95.3" lengthAdjust="spacingAndGlyphs">1.2 mg/kg predicted</text>
<circle cx="388.6" cy="444.2" r="2.85" stroke="#ed7d31" fill="none" stroke-width="1.55"/>
<text x="400.5" y="447.0" font-size="10.30" text-anchor="start" font-weight="normal" fill="#111" stroke="#111" stroke-width="0.25" textLength="93.1" lengthAdjust="spacingAndGlyphs">1.2 mg/kg observed</text>
<path d="M504.4,427.5 H525.1" stroke="#7f7f7f" stroke-width="2.3"/>
<text x="526.1" y="431.0" font-size="10.30" text-anchor="start" font-weight="normal" fill="#111" stroke="#111" stroke-width="0.25" textLength="95.3" lengthAdjust="spacingAndGlyphs">0.6 mg/kg predicted</text>
<circle cx="514.7" cy="444.2" r="2.85" stroke="#7f7f7f" fill="none" stroke-width="1.55"/>
<text x="526.6" y="447.0" font-size="10.30" text-anchor="start" font-weight="normal" fill="#111" stroke="#111" stroke-width="0.25" textLength="93.1" lengthAdjust="spacingAndGlyphs">0.6 mg/kg observed</text>
<path d="M630.5,427.5 H651.2" stroke="#fc5fe6" stroke-width="2.3"/>
<text x="652.2" y="431.0" font-size="10.30" text-anchor="start" font-weight="normal" fill="#111" stroke="#111" stroke-width="0.25" textLength="95.3" lengthAdjust="spacingAndGlyphs">0.3 mg/kg predicted</text>
<circle cx="640.8" cy="444.2" r="2.85" stroke="#fc5fe6" fill="none" stroke-width="1.55"/>
<text x="652.7" y="447.0" font-size="10.30" text-anchor="start" font-weight="normal" fill="#111" stroke="#111" stroke-width="0.25" textLength="93.1" lengthAdjust="spacingAndGlyphs">0.3 mg/kg observed</text>
<path d="M70,824.4 H622.9 M70,768.3 H622.9 M70,712.5 H622.9 M70,656.4 H622.9 M70,601.5 H622.9 M70,545.4 H622.9 M70,489.5 H622.9 M74.5,489.5 V828.9 M129.5,824.4 V828.9 M184.5,824.4 V828.9 M239.5,824.4 V828.9 M294.5,824.4 V828.9 M349.5,824.4 V828.9 M404.5,824.4 V828.9 M458.5,824.4 V828.9 M513.5,824.4 V828.9 M568.5,824.4 V828.9 M623.5,824.4 V828.9" stroke="#8c8c8c" stroke-width="1" fill="none"/>
<text x="60.8" y="493.7" font-size="12.20" text-anchor="end" font-weight="normal" fill="#111" stroke="#111" stroke-width="0.25" textLength="18.7" lengthAdjust="spacingAndGlyphs">100</text>
<text x="60.8" y="549.6" font-size="12.20" text-anchor="end" font-weight="normal" fill="#111" stroke="#111" stroke-width="0.25" textLength="12.5" lengthAdjust="spacingAndGlyphs">10</text>
<text x="60.8" y="605.7" font-size="12.20" text-anchor="end" font-weight="normal" fill="#111" stroke="#111" stroke-width="0.25" textLength="6.2" lengthAdjust="spacingAndGlyphs">1</text>
<text x="60.8" y="660.6" font-size="12.20" text-anchor="end" font-weight="normal" fill="#111" stroke="#111" stroke-width="0.25" textLength="15.6" lengthAdjust="spacingAndGlyphs">0.1</text>
<text x="60.8" y="716.7" font-size="12.20" text-anchor="end" font-weight="normal" fill="#111" stroke="#111" stroke-width="0.25" textLength="21.8" lengthAdjust="spacingAndGlyphs">0.01</text>
<text x="60.8" y="772.5" font-size="12.20" text-anchor="end" font-weight="normal" fill="#111" stroke="#111" stroke-width="0.25" textLength="28.0" lengthAdjust="spacingAndGlyphs">0.001</text>
<text x="60.8" y="828.6" font-size="12.20" text-anchor="end" font-weight="normal" fill="#111" stroke="#111" stroke-width="0.25" textLength="34.3" lengthAdjust="spacingAndGlyphs">0.0001</text>
<text x="74.4" y="845.9" font-size="12.20" text-anchor="middle" font-weight="normal" fill="#111" stroke="#111" stroke-width="0.25" textLength="6.2" lengthAdjust="spacingAndGlyphs">0</text>
<text x="129.2" y="845.9" font-size="12.20" text-anchor="middle" font-weight="normal" fill="#111" stroke="#111" stroke-width="0.25" textLength="12.5" lengthAdjust="spacingAndGlyphs">10</text>
<text x="184.1" y="845.9" font-size="12.20" text-anchor="middle" font-weight="normal" fill="#111" stroke="#111" stroke-width="0.25" textLength="12.5" lengthAdjust="spacingAndGlyphs">20</text>
<text x="239.0" y="845.9" font-size="12.20" text-anchor="middle" font-weight="normal" fill="#111" stroke="#111" stroke-width="0.25" textLength="12.5" lengthAdjust="spacingAndGlyphs">30</text>
<text x="293.8" y="845.9" font-size="12.20" text-anchor="middle" font-weight="normal" fill="#111" stroke="#111" stroke-width="0.25" textLength="12.5" lengthAdjust="spacingAndGlyphs">40</text>
<text x="348.6" y="845.9" font-size="12.20" text-anchor="middle" font-weight="normal" fill="#111" stroke="#111" stroke-width="0.25" textLength="12.5" lengthAdjust="spacingAndGlyphs">50</text>
<text x="403.5" y="845.9" font-size="12.20" text-anchor="middle" font-weight="normal" fill="#111" stroke="#111" stroke-width="0.25" textLength="12.5" lengthAdjust="spacingAndGlyphs">60</text>
<text x="458.4" y="845.9" font-size="12.20" text-anchor="middle" font-weight="normal" fill="#111" stroke="#111" stroke-width="0.25" textLength="12.5" lengthAdjust="spacingAndGlyphs">70</text>
<text x="513.2" y="845.9" font-size="12.20" text-anchor="middle" font-weight="normal" fill="#111" stroke="#111" stroke-width="0.25" textLength="12.5" lengthAdjust="spacingAndGlyphs">80</text>
<text x="568.1" y="845.9" font-size="12.20" text-anchor="middle" font-weight="normal" fill="#111" stroke="#111" stroke-width="0.25" textLength="12.5" lengthAdjust="spacingAndGlyphs">90</text>
<text x="622.9" y="845.9" font-size="12.20" text-anchor="middle" font-weight="normal" fill="#111" stroke="#111" stroke-width="0.25" textLength="18.7" lengthAdjust="spacingAndGlyphs">100</text>
<text x="369.5" y="867.4" font-size="14.50" text-anchor="middle" font-weight="bold" fill="#000" stroke="#000" stroke-width="0.10" textLength="75.8" lengthAdjust="spacingAndGlyphs">Time (days)</text>
<text transform="translate(11.2,655.7) rotate(-90)" font-size="15.00" text-anchor="middle" font-weight="bold" textLength="145.3" lengthAdjust="spacingAndGlyphs">Concentration (µg/ml)</text>
<text x="10.0" y="502.9" font-size="20.00" text-anchor="start" font-weight="bold" fill="#000" stroke="#000" stroke-width="0.10" textLength="25.6" lengthAdjust="spacingAndGlyphs">(b)</text>
<clipPath id="cb"><rect x="74" y="479.9" width="560" height="344.9"/></clipPath>
<g clip-path="url(#cb)" fill="none" stroke-width="2.3" stroke-linejoin="round">
<path d=" M74.39,495.60 L74.99,497.06 L75.64,498.47 L76.34,499.83 L77.08,501.14 L77.87,502.41 L78.70,503.63 L79.57,504.82 L80.48,505.96 L81.43,507.06 L82.41,508.13 L83.43,509.16 L84.48,510.15 L85.57,511.12 L86.68,512.06 L87.82,512.96 L88.99,513.84 L90.18,514.70 L91.39,515.53 L92.63,516.34 L93.88,517.13 L95.15,517.91 L96.44,518.66 L97.75,519.41 L99.06,520.14 L100.39,520.85 L101.72,521.56 L103.07,522.26 L104.42,522.96 L105.77,523.65 L107.13,524.34 L108.49,525.02 L109.85,525.71 L111.20,526.40 L112.55,527.09 L113.90,527.79 L115.25,528.49 L116.60,529.19 L117.94,529.89 L119.28,530.60 L120.62,531.31 L121.95,532.03 L123.28,532.75 L124.60,533.48 L125.92,534.21 L127.24,534.94 L128.55,535.68 L129.86,536.43 L131.16,537.18 L132.46,537.94 L133.76,538.70 L135.05,539.47 L136.33,540.25 L137.61,541.03 L138.88,541.82 L140.15,542.62 L141.41,543.42 L142.66,544.24 L143.91,545.06 L145.15,545.89 L146.38,546.72 L147.61,547.57 L148.83,548.42 L150.05,549.29 L151.25,550.16 L152.45,551.04 L153.64,551.93 L154.83,552.84 L156.00,553.75 L157.17,554.67 L158.33,555.61 L159.48,556.55 L160.62,557.50 L161.76,558.47 L162.88,559.45 L164.00,560.44 L165.10,561.44 L166.20,562.45 L167.28,563.48 L168.35,564.52 L169.41,565.57 L170.46,566.63 L171.49,567.71 L172.51,568.80 L173.51,569.91 L174.50,571.03 L175.47,572.16 L176.43,573.31 L177.36,574.47 L178.28,575.65 L179.18,576.84 L180.06,578.05 L180.91,579.27 L181.75,580.51 L182.56,581.76 L183.36,583.03 L184.12,584.32 L184.87,585.62 L185.59,586.95 L186.28,588.28 L186.95,589.64 L187.59,591.01 L188.20,592.40 L188.79,593.81 L189.35,595.24 L189.58,595.87 L189.59,495.60 M189.58,495.60 L190.18,497.06 L190.83,498.47 L191.52,499.83 L192.27,501.14 L193.05,502.41 L193.88,503.63 L194.75,504.82 L195.66,505.96 L196.61,507.06 L197.60,508.13 L198.62,509.16 L199.67,510.15 L200.75,511.12 L201.87,512.06 L203.01,512.96 L204.17,513.84 L205.36,514.70 L206.58,515.53 L207.81,516.34 L209.07,517.13 L210.34,517.91 L211.63,518.66 L212.93,519.41 L214.25,520.14 L215.57,520.85 L216.91,521.56 L218.25,522.26 L219.60,522.96 L220.96,523.65 L222.31,524.34 L223.67,525.02 L225.03,525.71 L226.39,526.40 L227.74,527.09 L229.09,527.79 L230.44,528.49 L231.78,529.19 L233.13,529.89 L234.47,530.60 L235.80,531.31 L237.13,532.03 L238.46,532.75 L239.79,533.48 L241.11,534.21 L242.43,534.94 L243.74,535.68 L245.05,536.43 L246.35,537.18 L247.65,537.94 L248.94,538.70 L250.23,539.47 L251.51,540.25 L252.79,541.03 L254.06,541.82 L255.33,542.62 L256.59,543.42 L257.85,544.24 L259.09,545.06 L260.33,545.89 L261.57,546.72 L262.80,547.57 L264.02,548.42 L265.23,549.29 L266.44,550.16 L267.64,551.04 L268.83,551.93 L270.01,552.84 L271.19,553.75 L272.36,554.67 L273.52,555.61 L274.67,556.55 L275.81,557.50 L276.94,558.47 L278.07,559.45 L279.18,560.44 L280.29,561.44 L281.38,562.45 L282.47,563.48 L283.54,564.52 L284.60,565.57 L285.64,566.63 L286.68,567.71 L287.70,568.80 L288.70,569.91 L289.69,571.03 L290.66,572.16 L291.61,573.31 L292.55,574.47 L293.47,575.65 L294.36,576.84 L295.24,578.05 L296.10,579.27 L296.94,580.51 L297.75,581.76 L298.54,583.03 L299.31,584.32 L300.05,585.62 L300.77,586.95 L301.47,588.28 L302.14,589.64 L302.78,591.01 L303.39,592.40 L303.98,593.81 L304.53,595.24 L304.77,595.87 L304.77,495.60 M304.76,495.60 L305.36,497.06 L306.01,498.47 L306.71,499.83 L307.45,501.14 L308.24,502.41 L309.07,503.63 L309.94,504.82 L310.85,505.96 L311.80,507.06 L312.78,508.13 L313.80,509.16 L314.85,510.15 L315.94,511.12 L317.05,512.06 L318.19,512.96 L319.36,513.84 L320.55,514.70 L321.76,515.53 L323.00,516.34 L324.25,517.13 L325.52,517.91 L326.81,518.66 L328.12,519.41 L329.43,520.14 L330.76,520.85 L332.09,521.56 L333.44,522.26 L334.79,522.96 L336.14,523.65 L337.50,524.34 L338.86,525.02 L340.22,525.71 L341.57,526.40 L342.92,527.09 L344.27,527.79 L345.62,528.49 L346.97,529.19 L348.31,529.89 L349.65,530.60 L350.99,531.31 L352.32,532.03 L353.65,532.75 L354.97,533.48 L356.29,534.21 L357.61,534.94 L358.92,535.68 L360.23,536.43 L361.53,537.18 L362.83,537.94 L364.13,538.70 L365.42,539.47 L366.70,540.25 L367.98,541.03 L369.25,541.82 L370.52,542.62 L371.78,543.42 L373.03,544.24 L374.28,545.06 L375.52,545.89 L376.75,546.72 L377.98,547.57 L379.20,548.42 L380.42,549.29 L381.62,550.16 L382.82,551.04 L384.01,551.93 L385.20,552.84 L386.37,553.75 L387.54,554.67 L388.70,555.61 L389.85,556.55 L390.99,557.50 L392.13,558.47 L393.25,559.45 L394.37,560.44 L395.47,561.44 L396.57,562.45 L397.65,563.48 L398.72,564.52 L399.78,565.57 L400.83,566.63 L401.86,567.71 L402.88,568.80 L403.88,569.91 L404.87,571.03 L405.84,572.16 L406.80,573.31 L407.73,574.47 L408.65,575.65 L409.55,576.84 L410.43,578.05 L411.28,579.27 L412.12,580.51 L412.93,581.76 L413.73,583.03 L414.49,584.32 L415.24,585.62 L415.96,586.95 L416.65,588.28 L417.32,589.64 L417.96,591.01 L418.57,592.40 L419.16,593.81 L419.72,595.24 L419.95,595.87 L419.95,495.60 M419.96,495.60 L420.46,497.09 L421.03,498.53 L421.66,499.91 L422.36,501.24 L423.11,502.52 L423.92,503.75 L424.79,504.93 L425.70,506.08 L426.67,507.18 L427.68,508.24 L428.73,509.26 L429.82,510.25 L430.94,511.21 L432.10,512.13 L433.29,513.03 L434.51,513.89 L435.75,514.74 L437.01,515.56 L438.29,516.36 L439.59,517.14 L440.90,517.91 L442.22,518.66 L443.55,519.40 L444.88,520.13 L446.21,520.85 L447.54,521.56 L448.88,522.27 L450.21,522.97 L451.55,523.67 L452.88,524.36 L454.22,525.05 L455.55,525.74 L456.89,526.42 L458.22,527.11 L459.55,527.79 L460.88,528.47 L462.21,529.15 L463.54,529.84 L464.86,530.53 L466.19,531.22 L467.51,531.91 L468.83,532.61 L470.14,533.32 L471.46,534.03 L472.77,534.74 L474.07,535.47 L475.38,536.20 L476.68,536.94 L477.97,537.70 L479.26,538.46 L480.55,539.23 L481.83,540.01 L483.10,540.80 L484.37,541.60 L485.64,542.41 L486.90,543.23 L488.15,544.06 L489.40,544.90 L490.64,545.75 L491.87,546.61 L493.10,547.48 L494.32,548.36 L495.53,549.24 L496.74,550.14 L497.94,551.04 L499.13,551.96 L500.31,552.88 L501.48,553.82 L502.65,554.76 L503.80,555.71 L504.95,556.68 L506.09,557.65 L507.22,558.64 L508.34,559.64 L509.44,560.64 L510.54,561.66 L511.63,562.70 L512.71,563.74 L513.77,564.79 L514.82,565.86 L515.86,566.93 L516.89,568.02 L517.90,569.12 L518.90,570.23 L519.89,571.35 L520.86,572.48 L521.82,573.63 L522.76,574.78 L523.68,575.94 L524.59,577.12 L525.48,578.30 L526.35,579.50 L527.21,580.71 L528.04,581.92 L528.86,583.15 L529.66,584.39 L530.45,585.63 L531.22,586.89 L531.98,588.16 L532.73,589.44 L533.47,590.72 L534.21,592.02 L534.94,593.33 L535.67,594.65 L536.39,595.97 L537.10,597.31 L537.79,598.66 L538.47,600.01 L539.12,601.38 L539.74,602.75 L540.34,604.14 L540.91,605.53 L541.44,606.93 L541.95,608.34 L542.43,609.76 L542.88,611.18 L543.31,612.62 L543.72,614.06 L544.10,615.50 L544.46,616.95 L544.80,618.41 L545.11,619.88 L545.41,621.34 L545.69,622.82 L545.96,624.29 L546.20,625.78 L546.43,627.26 L546.65,628.75 L546.86,630.24 L547.05,631.73 L547.23,633.23 L547.41,634.73 L547.57,636.23 L547.73,637.72 L547.88,639.23 L548.02,640.73 L548.16,642.23 L548.30,643.73 L548.43,645.22 L548.56,646.72 L548.69,648.22 L548.82,649.71 L548.95,651.21 L549.09,652.70 L549.22,654.19 L549.35,655.68 L549.49,657.17 L549.63,658.65 L549.77,660.14 L549.91,661.62 L550.06,663.10 L550.21,664.58 L550.36,666.06 L550.52,667.54 L550.69,669.02 L550.86,670.49 L551.04,671.97 L551.22,673.44 L551.41,674.91 L551.60,676.38 L551.81,677.85 L552.02,679.32 L552.24,680.79 L552.47,682.25 L552.71,683.72 L552.95,685.18 L553.21,686.65 L553.48,688.11 L553.75,689.57 L554.04,691.03 L554.34,692.49 L554.66,693.94 L554.98,695.40 L555.32,696.86 L555.66,698.31 L556.02,699.76 L556.39,701.22 L556.77,702.67 L557.16,704.12 L557.55,705.57 L557.96,707.02 L558.37,708.47 L558.79,709.92 L559.21,711.36 L559.65,712.81 L560.09,714.26 L560.53,715.70 L560.98,717.15 L561.44,718.59 L561.90,720.03 L562.36,721.47 L562.83,722.92 L563.30,724.36 L563.77,725.80 L564.24,727.24 L564.72,728.67 L565.20,730.11 L565.68,731.55 L566.15,732.99 L566.63,734.43 L567.11,735.86 L567.59,737.30 L568.06,738.73 L568.53,740.17 L569.00,741.60 L569.47,743.04 L569.94,744.47 L570.41,745.90 L570.87,747.34 L571.33,748.77 L571.79,750.20 L572.25,751.63 L572.71,753.07 L573.16,754.50 L573.62,755.93 L574.07,757.36 L574.52,758.79 L574.97,760.22 L575.42,761.65 L575.86,763.08 L576.31,764.51 L576.76,765.94 L577.20,767.37 L577.64,768.80 L578.08,770.23 L578.52,771.66 L578.96,773.09 L579.40,774.52 L579.84,775.95 L580.28,777.38 L580.71,778.81 L581.15,780.24 L581.59,781.67 L582.02,783.10 L582.45,784.53 L582.89,785.96 L583.32,787.39 L583.75,788.82 L584.19,790.25 L584.62,791.68 L585.05,793.11 L585.48,794.54 L585.91,795.97 L586.35,797.40 L586.78,798.84 L587.21,800.27 L587.64,801.70 L588.07,803.13 L588.50,804.57 L588.94,806.00 L589.37,807.43 L589.80,808.87 L590.23,810.30 L590.67,811.74 L591.10,813.17 L591.53,814.61 L591.97,816.04 L592.40,817.48 L592.84,818.92 L593.28,820.35 L593.71,821.79 L594.15,823.23 L594.36,823.90" stroke="#4bacc6"/>
<path d=" M74.40,513.00 L74.92,514.49 L75.50,515.93 L76.14,517.32 L76.84,518.65 L77.59,519.94 L78.38,521.18 L79.22,522.39 L80.11,523.55 L81.04,524.67 L82.01,525.75 L83.01,526.80 L84.05,527.82 L85.13,528.81 L86.23,529.77 L87.36,530.71 L88.51,531.62 L89.68,532.51 L90.88,533.38 L92.09,534.24 L93.31,535.08 L94.55,535.90 L95.79,536.72 L97.05,537.52 L98.32,538.32 L99.60,539.11 L100.88,539.90 L102.17,540.68 L103.46,541.47 L104.76,542.25 L106.06,543.03 L107.37,543.82 L108.67,544.62 L109.98,545.42 L111.28,546.23 L112.59,547.04 L113.89,547.87 L115.19,548.71 L116.48,549.55 L117.77,550.41 L119.05,551.27 L120.33,552.15 L121.60,553.03 L122.86,553.93 L124.10,554.84 L125.34,555.76 L126.56,556.69 L127.78,557.63 L128.97,558.58 L130.16,559.55 L131.32,560.53 L132.47,561.52 L133.61,562.53 L134.72,563.54 L135.81,564.58 L136.89,565.62 L137.94,566.68 L138.97,567.75 L139.97,568.84 L140.95,569.95 L141.91,571.07 L142.84,572.20 L143.74,573.35 L144.61,574.51 L145.46,575.69 L146.29,576.89 L147.08,578.10 L147.86,579.32 L148.61,580.55 L149.34,581.80 L150.04,583.06 L150.72,584.34 L151.38,585.62 L152.02,586.92 L152.63,588.23 L153.23,589.56 L153.81,590.89 L154.36,592.23 L154.90,593.59 L155.42,594.95 L155.92,596.33 L156.40,597.71 L156.87,599.11 L157.31,600.51 L157.75,601.92 L158.16,603.34 L158.56,604.77 L158.95,606.21 L159.32,607.65 L159.68,609.10 L160.02,610.56 L160.35,612.02 L160.67,613.49 L160.98,614.97 L161.27,616.45 L161.56,617.94 L161.83,619.43 L162.09,620.93 L162.35,622.43 L162.59,623.94 L162.83,625.45 L163.05,626.96 L163.27,628.48 L163.49,630.00 L163.69,631.52 L163.89,633.05 L164.09,634.58 L164.27,636.11 L164.46,637.64 L164.64,639.17 L164.81,640.70 L164.99,642.23 L165.15,643.77 L165.32,645.30 L165.49,646.83 L165.65,648.37 L165.81,649.90 L165.97,651.43 L166.14,652.96 L166.30,654.48 L166.46,656.01 L166.63,657.53 L166.79,659.05 L166.96,660.56 L167.13,662.08 L167.31,663.58 L167.49,665.09 L167.67,666.59 L167.86,668.09 L168.05,669.58 L168.24,671.07 L168.44,672.56 L168.64,674.04 L168.85,675.52 L169.06,677.00 L169.28,678.48 L169.50,679.95 L169.73,681.41 L169.96,682.88 L170.20,684.34 L170.44,685.80 L170.69,687.26 L170.94,688.71 L171.20,690.17 L171.47,691.62 L171.74,693.07 L172.01,694.51 L172.30,695.96 L172.59,697.40 L172.88,698.84 L173.19,700.28 L173.50,701.71 L173.81,703.15 L174.13,704.58 L174.46,706.01 L174.80,707.44 L175.14,708.87 L175.50,710.30 L175.85,711.73 L176.22,713.16 L176.59,714.58 L176.98,716.01 L177.37,717.43 L177.76,718.85 L178.17,720.28 L178.58,721.70 L179.01,723.12 L179.44,724.54 L179.88,725.97 L180.33,727.39 L180.78,728.81 L181.25,730.23 L181.73,731.65 L182.21,733.08 L182.70,734.50 L183.20,735.92 L183.71,737.35 L184.21,738.77 L184.73,740.19 L185.24,741.62 L185.76,743.05 L186.27,744.47 L186.78,745.90 L187.29,747.33 L187.80,748.76 L188.30,750.20 L188.80,751.63 L189.29,753.07 L189.59,753.95 L189.59,513.00 M189.58,513.00 L190.11,514.49 L190.69,515.93 L191.33,517.32 L192.02,518.65 L192.77,519.94 L193.57,521.18 L194.41,522.39 L195.30,523.55 L196.23,524.67 L197.19,525.75 L198.20,526.80 L199.24,527.82 L200.31,528.81 L201.41,529.77 L202.54,530.71 L203.69,531.62 L204.87,532.51 L206.06,533.38 L207.27,534.24 L208.50,535.08 L209.73,535.90 L210.98,536.72 L212.24,537.52 L213.51,538.32 L214.78,539.11 L216.06,539.90 L217.35,540.68 L218.65,541.47 L219.94,542.25 L221.25,543.03 L222.55,543.82 L223.86,544.62 L225.16,545.42 L226.47,546.23 L227.77,547.04 L229.07,547.87 L230.37,548.71 L231.67,549.55 L232.96,550.41 L234.24,551.27 L235.51,552.15 L236.78,553.03 L238.04,553.93 L239.29,554.84 L240.52,555.76 L241.75,556.69 L242.96,557.63 L244.16,558.58 L245.34,559.55 L246.51,560.53 L247.66,561.52 L248.79,562.53 L249.91,563.54 L251.00,564.58 L252.07,565.62 L253.12,566.68 L254.15,567.75 L255.16,568.84 L256.14,569.95 L257.09,571.07 L258.02,572.20 L258.92,573.35 L259.80,574.51 L260.65,575.69 L261.47,576.89 L262.27,578.10 L263.04,579.32 L263.79,580.55 L264.52,581.80 L265.22,583.06 L265.91,584.34 L266.57,585.62 L267.20,586.92 L267.82,588.23 L268.42,589.56 L268.99,590.89 L269.55,592.23 L270.08,593.59 L270.60,594.95 L271.10,596.33 L271.59,597.71 L272.05,599.11 L272.50,600.51 L272.93,601.92 L273.35,603.34 L273.75,604.77 L274.13,606.21 L274.50,607.65 L274.86,609.10 L275.21,610.56 L275.54,612.02 L275.85,613.49 L276.16,614.97 L276.46,616.45 L276.74,617.94 L277.01,619.43 L277.28,620.93 L277.53,622.43 L277.77,623.94 L278.01,625.45 L278.24,626.96 L278.46,628.48 L278.67,630.00 L278.88,631.52 L279.08,633.05 L279.27,634.58 L279.46,636.11 L279.64,637.64 L279.82,639.17 L280.00,640.70 L280.17,642.23 L280.34,643.77 L280.51,645.30 L280.67,646.83 L280.83,648.37 L281.00,649.90 L281.16,651.43 L281.32,652.96 L281.48,654.48 L281.65,656.01 L281.81,657.53 L281.98,659.05 L282.15,660.56 L282.32,662.08 L282.49,663.58 L282.67,665.09 L282.85,666.59 L283.04,668.09 L283.23,669.58 L283.43,671.07 L283.62,672.56 L283.83,674.04 L284.04,675.52 L284.25,677.00 L284.46,678.48 L284.69,679.95 L284.91,681.41 L285.15,682.88 L285.38,684.34 L285.63,685.80 L285.87,687.26 L286.13,688.71 L286.39,690.17 L286.65,691.62 L286.92,693.07 L287.20,694.51 L287.48,695.96 L287.77,697.40 L288.07,698.84 L288.37,700.28 L288.68,701.71 L289.00,703.15 L289.32,704.58 L289.65,706.01 L289.99,707.44 L290.33,708.87 L290.68,710.30 L291.04,711.73 L291.41,713.16 L291.78,714.58 L292.16,716.01 L292.55,717.43 L292.95,718.85 L293.36,720.28 L293.77,721.70 L294.19,723.12 L294.62,724.54 L295.06,725.97 L295.51,727.39 L295.97,728.81 L296.44,730.23 L296.91,731.65 L297.40,733.08 L297.89,734.50 L298.39,735.92 L298.89,737.35 L299.40,738.77 L299.91,740.19 L300.43,741.62 L300.94,743.05 L301.46,744.47 L301.97,745.90 L302.48,747.33 L302.99,748.76 L303.49,750.20 L303.99,751.63 L304.48,753.07 L304.77,753.95 L304.77,513.00 M304.77,513.00 L305.29,514.49 L305.87,515.93 L306.51,517.32 L307.21,518.65 L307.96,519.94 L308.75,521.18 L309.59,522.39 L310.48,523.55 L311.41,524.67 L312.38,525.75 L313.38,526.80 L314.42,527.82 L315.50,528.81 L316.60,529.77 L317.73,530.71 L318.88,531.62 L320.05,532.51 L321.25,533.38 L322.46,534.24 L323.68,535.08 L324.92,535.90 L326.16,536.72 L327.42,537.52 L328.69,538.32 L329.97,539.11 L331.25,539.90 L332.54,540.68 L333.83,541.47 L335.13,542.25 L336.43,543.03 L337.74,543.82 L339.04,544.62 L340.35,545.42 L341.65,546.23 L342.96,547.04 L344.26,547.87 L345.56,548.71 L346.85,549.55 L348.14,550.41 L349.42,551.27 L350.70,552.15 L351.97,553.03 L353.23,553.93 L354.47,554.84 L355.71,555.76 L356.93,556.69 L358.15,557.63 L359.34,558.58 L360.53,559.55 L361.69,560.53 L362.84,561.52 L363.98,562.53 L365.09,563.54 L366.18,564.58 L367.26,565.62 L368.31,566.68 L369.34,567.75 L370.34,568.84 L371.32,569.95 L372.28,571.07 L373.21,572.20 L374.11,573.35 L374.98,574.51 L375.83,575.69 L376.66,576.89 L377.45,578.10 L378.23,579.32 L378.98,580.55 L379.71,581.80 L380.41,583.06 L381.09,584.34 L381.75,585.62 L382.39,586.92 L383.00,588.23 L383.60,589.56 L384.18,590.89 L384.73,592.23 L385.27,593.59 L385.79,594.95 L386.29,596.33 L386.77,597.71 L387.24,599.11 L387.68,600.51 L388.12,601.92 L388.53,603.34 L388.93,604.77 L389.32,606.21 L389.69,607.65 L390.05,609.10 L390.39,610.56 L390.72,612.02 L391.04,613.49 L391.35,614.97 L391.64,616.45 L391.93,617.94 L392.20,619.43 L392.46,620.93 L392.72,622.43 L392.96,623.94 L393.20,625.45 L393.42,626.96 L393.64,628.48 L393.86,630.00 L394.06,631.52 L394.26,633.05 L394.46,634.58 L394.64,636.11 L394.83,637.64 L395.01,639.17 L395.18,640.70 L395.36,642.23 L395.52,643.77 L395.69,645.30 L395.86,646.83 L396.02,648.37 L396.18,649.90 L396.34,651.43 L396.51,652.96 L396.67,654.48 L396.83,656.01 L397.00,657.53 L397.16,659.05 L397.33,660.56 L397.50,662.08 L397.68,663.58 L397.86,665.09 L398.04,666.59 L398.23,668.09 L398.42,669.58 L398.61,671.07 L398.81,672.56 L399.01,674.04 L399.22,675.52 L399.43,677.00 L399.65,678.48 L399.87,679.95 L400.10,681.41 L400.33,682.88 L400.57,684.34 L400.81,685.80 L401.06,687.26 L401.31,688.71 L401.57,690.17 L401.84,691.62 L402.11,693.07 L402.38,694.51 L402.67,695.96 L402.96,697.40 L403.25,698.84 L403.56,700.28 L403.87,701.71 L404.18,703.15 L404.50,704.58 L404.83,706.01 L405.17,707.44 L405.51,708.87 L405.87,710.30 L406.22,711.73 L406.59,713.16 L406.96,714.58 L407.35,716.01 L407.74,717.43 L408.13,718.85 L408.54,720.28 L408.95,721.70 L409.38,723.12 L409.81,724.54 L410.25,725.97 L410.70,727.39 L411.15,728.81 L411.62,730.23 L412.10,731.65 L412.58,733.08 L413.07,734.50 L413.57,735.92 L414.08,737.35 L414.58,738.77 L415.10,740.19 L415.61,741.62 L416.13,743.05 L416.64,744.47 L417.15,745.90 L417.66,747.33 L418.17,748.76 L418.67,750.20 L419.17,751.63 L419.66,753.07 L419.96,753.95 L419.95,513.00 M419.95,513.01 L420.49,514.44 L421.10,515.83 L421.76,517.17 L422.48,518.47 L423.24,519.74 L424.06,520.96 L424.92,522.15 L425.82,523.31 L426.77,524.43 L427.75,525.52 L428.77,526.58 L429.82,527.61 L430.90,528.62 L432.00,529.60 L433.14,530.56 L434.29,531.49 L435.46,532.41 L436.65,533.31 L437.85,534.19 L439.07,535.06 L440.29,535.92 L441.52,536.76 L442.76,537.59 L444.01,538.41 L445.26,539.23 L446.52,540.03 L447.78,540.83 L449.04,541.63 L450.31,542.43 L451.58,543.22 L452.86,544.01 L454.13,544.80 L455.40,545.60 L456.68,546.39 L457.95,547.19 L459.22,548.00 L460.48,548.82 L461.75,549.64 L463.01,550.47 L464.26,551.32 L465.51,552.17 L466.75,553.04 L467.98,553.92 L469.21,554.82 L470.43,555.73 L471.63,556.65 L472.83,557.59 L474.02,558.54 L475.19,559.51 L476.36,560.49 L477.51,561.48 L478.64,562.49 L479.76,563.51 L480.87,564.55 L481.96,565.60 L483.03,566.66 L484.08,567.74 L485.12,568.83 L486.13,569.93 L487.13,571.05 L488.11,572.18 L489.06,573.33 L490.00,574.49 L490.91,575.66 L491.79,576.85 L492.66,578.05 L493.49,579.27 L494.31,580.50 L495.09,581.74 L495.85,583.00 L496.58,584.27 L497.28,585.56 L497.95,586.86 L498.60,588.17 L499.22,589.50 L499.82,590.83 L500.39,592.18 L500.93,593.54 L501.46,594.92 L501.96,596.30 L502.44,597.69 L502.89,599.09 L503.33,600.51 L503.75,601.93 L504.15,603.36 L504.53,604.80 L504.89,606.24 L505.23,607.70 L505.56,609.16 L505.88,610.63 L506.18,612.10 L506.47,613.58 L506.74,615.07 L507.00,616.56 L507.25,618.06 L507.49,619.56 L507.71,621.07 L507.93,622.57 L508.14,624.09 L508.35,625.60 L508.54,627.12 L508.73,628.64 L508.91,630.16 L509.09,631.68 L509.26,633.20 L509.43,634.73 L509.60,636.25 L509.76,637.78 L509.92,639.30 L510.09,640.82 L510.25,642.34 L510.41,643.86 L510.58,645.38 L510.74,646.89 L510.91,648.40 L511.08,649.91 L511.25,651.42 L511.42,652.93 L511.60,654.43 L511.77,655.94 L511.95,657.44 L512.14,658.93 L512.32,660.43 L512.51,661.93 L512.70,663.42 L512.89,664.91 L513.09,666.40 L513.29,667.89 L513.49,669.37 L513.70,670.86 L513.91,672.34 L514.13,673.82 L514.34,675.30 L514.57,676.78 L514.80,678.25 L515.03,679.72 L515.26,681.20 L515.51,682.67 L515.75,684.14 L516.00,685.60 L516.26,687.07 L516.52,688.53 L516.79,689.99 L517.07,691.45 L517.34,692.91 L517.63,694.37 L517.92,695.82 L518.22,697.28 L518.52,698.73 L518.83,700.18 L519.15,701.63 L519.47,703.08 L519.80,704.53 L520.14,705.97 L520.49,707.42 L520.84,708.86 L521.20,710.30 L521.57,711.74 L521.94,713.18 L522.32,714.61 L522.72,716.05 L523.11,717.48 L523.52,718.92 L523.93,720.35 L524.35,721.78 L524.77,723.21 L525.20,724.64 L525.64,726.07 L526.08,727.49 L526.53,728.92 L526.98,730.34 L527.44,731.77 L527.90,733.19 L528.37,734.61 L528.84,736.04 L529.32,737.46 L529.80,738.88 L530.28,740.30 L530.77,741.72 L531.26,743.14 L531.75,744.55 L532.25,745.97 L532.75,747.39 L533.25,748.81 L533.76,750.22 L534.26,751.64 L534.77,753.06 L535.28,754.47 L535.79,755.89 L536.30,757.31 L536.81,758.72 L537.32,760.14 L537.84,761.56 L538.35,762.97 L538.86,764.39 L539.38,765.80 L539.89,767.22 L540.40,768.64 L540.91,770.06 L541.42,771.47 L541.93,772.89 L542.44,774.31 L542.94,775.73 L543.45,777.15 L543.95,778.57 L544.45,779.99 L544.94,781.41 L545.44,782.83 L545.93,784.25 L546.41,785.68 L546.90,787.10 L547.38,788.52 L547.85,789.95 L548.32,791.38 L548.79,792.80 L549.25,794.23 L549.71,795.66 L550.16,797.09 L550.61,798.52 L551.05,799.96 L551.48,801.39 L551.91,802.83 L552.34,804.26 L552.75,805.70 L553.16,807.14 L553.57,808.58 L553.96,810.02 L554.35,811.47 L554.73,812.91 L555.11,814.36 L555.47,815.81 L555.83,817.26 L556.18,818.71 L556.52,820.16 L556.85,821.62 L557.18,823.08 L557.35,823.90" stroke="#7f62a8"/>
<path d=" M74.39,518.01 L74.93,519.46 L75.53,520.86 L76.18,522.22 L76.89,523.54 L77.65,524.81 L78.46,526.05 L79.32,527.25 L80.21,528.42 L81.15,529.55 L82.13,530.66 L83.14,531.73 L84.18,532.78 L85.25,533.81 L86.34,534.81 L87.45,535.80 L88.59,536.76 L89.74,537.71 L90.90,538.65 L92.07,539.57 L93.25,540.48 L94.44,541.39 L95.62,542.29 L96.81,543.18 L98.00,544.07 L99.20,544.96 L100.39,545.84 L101.59,546.73 L102.78,547.62 L103.97,548.52 L105.16,549.42 L106.35,550.32 L107.54,551.24 L108.72,552.16 L109.89,553.10 L111.07,554.04 L112.23,555.00 L113.39,555.97 L114.54,556.96 L115.69,557.95 L116.83,558.96 L117.95,559.98 L119.07,561.01 L120.18,562.06 L121.28,563.11 L122.36,564.18 L123.43,565.26 L124.49,566.35 L125.54,567.45 L126.57,568.57 L127.59,569.69 L128.59,570.83 L129.58,571.97 L130.55,573.13 L131.50,574.30 L132.43,575.48 L133.35,576.68 L134.24,577.88 L135.12,579.09 L135.97,580.32 L136.81,581.55 L137.62,582.80 L138.41,584.05 L139.17,585.32 L139.92,586.60 L140.63,587.89 L141.33,589.18 L142.00,590.49 L142.64,591.81 L143.27,593.13 L143.87,594.47 L144.45,595.82 L145.01,597.17 L145.55,598.53 L146.07,599.90 L146.57,601.28 L147.06,602.67 L147.52,604.06 L147.97,605.46 L148.40,606.87 L148.81,608.29 L149.21,609.71 L149.59,611.14 L149.95,612.58 L150.31,614.02 L150.64,615.46 L150.97,616.92 L151.28,618.38 L151.58,619.84 L151.87,621.31 L152.14,622.78 L152.41,624.26 L152.66,625.74 L152.91,627.23 L153.15,628.72 L153.37,630.21 L153.59,631.71 L153.81,633.21 L154.01,634.71 L154.21,636.22 L154.40,637.73 L154.59,639.24 L154.77,640.75 L154.95,642.26 L155.12,643.78 L155.29,645.30 L155.46,646.81 L155.63,648.33 L155.79,649.85 L155.95,651.37 L156.12,652.89 L156.28,654.42 L156.44,655.94 L156.61,657.46 L156.77,658.98 L156.94,660.49 L157.11,662.01 L157.28,663.53 L157.45,665.04 L157.64,666.55 L157.82,668.06 L158.01,669.57 L158.21,671.08 L158.41,672.58 L158.62,674.08 L158.83,675.58 L159.06,677.07 L159.29,678.56 L159.53,680.05 L159.77,681.54 L160.03,683.02 L160.29,684.50 L160.55,685.97 L160.83,687.44 L161.11,688.91 L161.40,690.38 L161.69,691.85 L161.99,693.31 L162.30,694.77 L162.61,696.23 L162.93,697.68 L163.26,699.13 L163.59,700.59 L163.92,702.03 L164.26,703.48 L164.61,704.93 L164.96,706.37 L165.32,707.81 L165.68,709.25 L166.05,710.69 L166.42,712.13 L166.80,713.56 L167.18,714.99 L167.56,716.43 L167.95,717.86 L168.35,719.29 L168.75,720.72 L169.15,722.14 L169.55,723.57 L169.96,725.00 L170.37,726.42 L170.79,727.85 L171.21,729.27 L171.63,730.69 L172.06,732.11 L172.49,733.54 L172.92,734.96 L173.35,736.38 L173.79,737.80 L174.23,739.22 L174.67,740.64 L175.11,742.06 L175.56,743.48 L176.00,744.91 L176.45,746.33 L176.90,747.75 L177.36,749.17 L177.81,750.59 L178.27,752.02 L178.72,753.44 L179.18,754.86 L179.64,756.29 L180.10,757.71 L180.56,759.14 L181.02,760.57 L181.48,762.00 L181.94,763.43 L182.40,764.86 L182.86,766.29 L183.32,767.72 L183.78,769.16 L184.24,770.59 L184.70,772.03 L185.16,773.47 L185.62,774.91 L186.08,776.35 L186.54,777.80 L186.99,779.24 L187.45,780.69 L187.90,782.14 L188.36,783.60 L188.81,785.05 L189.26,786.51 L189.59,787.58 L189.59,518.00 M189.58,518.01 L190.12,519.46 L190.71,520.86 L191.37,522.22 L192.07,523.54 L192.84,524.81 L193.65,526.05 L194.50,527.25 L195.40,528.42 L196.34,529.55 L197.31,530.66 L198.32,531.73 L199.36,532.78 L200.43,533.81 L201.52,534.81 L202.64,535.80 L203.77,536.76 L204.92,537.71 L206.08,538.65 L207.26,539.57 L208.44,540.48 L209.62,541.39 L210.81,542.29 L212.00,543.18 L213.19,544.07 L214.38,544.96 L215.58,545.84 L216.77,546.73 L217.96,547.62 L219.16,548.52 L220.35,549.42 L221.54,550.32 L222.72,551.24 L223.90,552.16 L225.08,553.10 L226.25,554.04 L227.42,555.00 L228.58,555.97 L229.73,556.96 L230.87,557.95 L232.01,558.96 L233.14,559.98 L234.26,561.01 L235.36,562.06 L236.46,563.11 L237.55,564.18 L238.62,565.26 L239.68,566.35 L240.73,567.45 L241.76,568.57 L242.78,569.69 L243.78,570.83 L244.76,571.97 L245.73,573.13 L246.68,574.30 L247.62,575.48 L248.53,576.68 L249.43,577.88 L250.30,579.09 L251.16,580.32 L251.99,581.55 L252.80,582.80 L253.59,584.05 L254.36,585.32 L255.10,586.60 L255.82,587.89 L256.51,589.18 L257.18,590.49 L257.83,591.81 L258.45,593.13 L259.06,594.47 L259.64,595.82 L260.20,597.17 L260.74,598.53 L261.26,599.90 L261.76,601.28 L262.24,602.67 L262.71,604.06 L263.15,605.46 L263.58,606.87 L264.00,608.29 L264.39,609.71 L264.77,611.14 L265.14,612.58 L265.49,614.02 L265.83,615.46 L266.15,616.92 L266.47,618.38 L266.76,619.84 L267.05,621.31 L267.33,622.78 L267.59,624.26 L267.85,625.74 L268.09,627.23 L268.33,628.72 L268.56,630.21 L268.78,631.71 L268.99,633.21 L269.20,634.71 L269.39,636.22 L269.59,637.73 L269.77,639.24 L269.96,640.75 L270.13,642.26 L270.31,643.78 L270.48,645.30 L270.65,646.81 L270.81,648.33 L270.98,649.85 L271.14,651.37 L271.30,652.89 L271.46,654.42 L271.63,655.94 L271.79,657.46 L271.95,658.98 L272.12,660.49 L272.29,662.01 L272.46,663.53 L272.64,665.04 L272.82,666.55 L273.00,668.06 L273.20,669.57 L273.39,671.08 L273.59,672.58 L273.80,674.08 L274.02,675.58 L274.24,677.07 L274.47,678.56 L274.71,680.05 L274.96,681.54 L275.21,683.02 L275.47,684.50 L275.74,685.97 L276.01,687.44 L276.29,688.91 L276.58,690.38 L276.88,691.85 L277.18,693.31 L277.48,694.77 L277.80,696.23 L278.12,697.68 L278.44,699.13 L278.77,700.59 L279.11,702.03 L279.45,703.48 L279.80,704.93 L280.15,706.37 L280.50,707.81 L280.87,709.25 L281.23,710.69 L281.61,712.13 L281.98,713.56 L282.36,714.99 L282.75,716.43 L283.14,717.86 L283.53,719.29 L283.93,720.72 L284.33,722.14 L284.74,723.57 L285.15,725.00 L285.56,726.42 L285.98,727.85 L286.40,729.27 L286.82,730.69 L287.24,732.11 L287.67,733.54 L288.10,734.96 L288.54,736.38 L288.97,737.80 L289.41,739.22 L289.85,740.64 L290.30,742.06 L290.74,743.48 L291.19,744.91 L291.64,746.33 L292.09,747.75 L292.54,749.17 L293.00,750.59 L293.45,752.02 L293.91,753.44 L294.36,754.86 L294.82,756.29 L295.28,757.71 L295.74,759.14 L296.20,760.57 L296.66,762.00 L297.12,763.43 L297.58,764.86 L298.04,766.29 L298.51,767.72 L298.97,769.16 L299.43,770.59 L299.89,772.03 L300.35,773.47 L300.81,774.91 L301.27,776.35 L301.72,777.80 L302.18,779.24 L302.63,780.69 L303.09,782.14 L303.54,783.60 L303.99,785.05 L304.44,786.51 L304.77,787.58 L304.77,518.00 M304.76,518.01 L305.30,519.46 L305.90,520.86 L306.55,522.22 L307.26,523.54 L308.02,524.81 L308.83,526.05 L309.69,527.25 L310.58,528.42 L311.52,529.55 L312.50,530.66 L313.51,531.73 L314.55,532.78 L315.62,533.81 L316.71,534.81 L317.82,535.80 L318.96,536.76 L320.11,537.71 L321.27,538.65 L322.44,539.57 L323.62,540.48 L324.81,541.39 L325.99,542.29 L327.18,543.18 L328.37,544.07 L329.57,544.96 L330.76,545.84 L331.96,546.73 L333.15,547.62 L334.34,548.52 L335.53,549.42 L336.72,550.32 L337.91,551.24 L339.09,552.16 L340.26,553.10 L341.44,554.04 L342.60,555.00 L343.76,555.97 L344.91,556.96 L346.06,557.95 L347.20,558.96 L348.32,559.98 L349.44,561.01 L350.55,562.06 L351.65,563.11 L352.73,564.18 L353.80,565.26 L354.86,566.35 L355.91,567.45 L356.94,568.57 L357.96,569.69 L358.96,570.83 L359.95,571.97 L360.92,573.13 L361.87,574.30 L362.80,575.48 L363.72,576.68 L364.61,577.88 L365.49,579.09 L366.34,580.32 L367.18,581.55 L367.99,582.80 L368.78,584.05 L369.54,585.32 L370.29,586.60 L371.00,587.89 L371.70,589.18 L372.37,590.49 L373.01,591.81 L373.64,593.13 L374.24,594.47 L374.82,595.82 L375.38,597.17 L375.92,598.53 L376.44,599.90 L376.94,601.28 L377.43,602.67 L377.89,604.06 L378.34,605.46 L378.77,606.87 L379.18,608.29 L379.58,609.71 L379.96,611.14 L380.32,612.58 L380.68,614.02 L381.01,615.46 L381.34,616.92 L381.65,618.38 L381.95,619.84 L382.24,621.31 L382.51,622.78 L382.78,624.26 L383.03,625.74 L383.28,627.23 L383.52,628.72 L383.74,630.21 L383.96,631.71 L384.18,633.21 L384.38,634.71 L384.58,636.22 L384.77,637.73 L384.96,639.24 L385.14,640.75 L385.32,642.26 L385.49,643.78 L385.66,645.30 L385.83,646.81 L386.00,648.33 L386.16,649.85 L386.32,651.37 L386.49,652.89 L386.65,654.42 L386.81,655.94 L386.98,657.46 L387.14,658.98 L387.31,660.49 L387.48,662.01 L387.65,663.53 L387.82,665.04 L388.01,666.55 L388.19,668.06 L388.38,669.57 L388.58,671.08 L388.78,672.58 L388.99,674.08 L389.20,675.58 L389.43,677.07 L389.66,678.56 L389.90,680.05 L390.14,681.54 L390.40,683.02 L390.66,684.50 L390.92,685.97 L391.20,687.44 L391.48,688.91 L391.77,690.38 L392.06,691.85 L392.36,693.31 L392.67,694.77 L392.98,696.23 L393.30,697.68 L393.63,699.13 L393.96,700.59 L394.29,702.03 L394.63,703.48 L394.98,704.93 L395.33,706.37 L395.69,707.81 L396.05,709.25 L396.42,710.69 L396.79,712.13 L397.17,713.56 L397.55,714.99 L397.93,716.43 L398.32,717.86 L398.72,719.29 L399.12,720.72 L399.52,722.14 L399.92,723.57 L400.33,725.00 L400.74,726.42 L401.16,727.85 L401.58,729.27 L402.00,730.69 L402.43,732.11 L402.86,733.54 L403.29,734.96 L403.72,736.38 L404.16,737.80 L404.60,739.22 L405.04,740.64 L405.48,742.06 L405.93,743.48 L406.37,744.91 L406.82,746.33 L407.27,747.75 L407.73,749.17 L408.18,750.59 L408.64,752.02 L409.09,753.44 L409.55,754.86 L410.01,756.29 L410.47,757.71 L410.93,759.14 L411.39,760.57 L411.85,762.00 L412.31,763.43 L412.77,764.86 L413.23,766.29 L413.69,767.72 L414.15,769.16 L414.61,770.59 L415.07,772.03 L415.53,773.47 L415.99,774.91 L416.45,776.35 L416.91,777.80 L417.36,779.24 L417.82,780.69 L418.27,782.14 L418.73,783.60 L419.18,785.05 L419.63,786.51 L419.96,787.58 L419.95,518.00 M419.95,518.00 L420.49,519.46 L421.08,520.87 L421.74,522.23 L422.45,523.55 L423.21,524.83 L424.02,526.07 L424.87,527.28 L425.77,528.44 L426.71,529.58 L427.69,530.68 L428.70,531.76 L429.74,532.80 L430.81,533.83 L431.90,534.83 L433.01,535.81 L434.15,536.77 L435.30,537.72 L436.46,538.65 L437.63,539.57 L438.81,540.48 L440.00,541.38 L441.18,542.28 L442.37,543.17 L443.57,544.05 L444.76,544.94 L445.95,545.82 L447.15,546.71 L448.34,547.60 L449.53,548.49 L450.72,549.39 L451.91,550.29 L453.09,551.20 L454.27,552.13 L455.45,553.06 L456.62,554.01 L457.79,554.97 L458.94,555.94 L460.10,556.93 L461.24,557.93 L462.37,558.94 L463.50,559.96 L464.62,560.99 L465.73,562.04 L466.82,563.10 L467.91,564.17 L468.98,565.25 L470.04,566.35 L471.08,567.45 L472.11,568.57 L473.13,569.70 L474.13,570.84 L475.12,571.99 L476.09,573.16 L477.04,574.33 L477.97,575.51 L478.88,576.71 L479.78,577.92 L480.65,579.13 L481.51,580.36 L482.34,581.60 L483.15,582.85 L483.94,584.11 L484.71,585.38 L485.45,586.65 L486.17,587.94 L486.86,589.24 L487.53,590.55 L488.18,591.87 L488.81,593.19 L489.41,594.53 L489.99,595.87 L490.55,597.22 L491.09,598.58 L491.62,599.95 L492.12,601.33 L492.60,602.71 L493.07,604.10 L493.52,605.50 L493.95,606.91 L494.36,608.32 L494.76,609.74 L495.14,611.16 L495.51,612.60 L495.86,614.03 L496.20,615.48 L496.53,616.93 L496.84,618.38 L497.14,619.84 L497.43,621.30 L497.71,622.77 L497.98,624.24 L498.23,625.72 L498.48,627.20 L498.72,628.69 L498.95,630.18 L499.17,631.67 L499.38,633.17 L499.59,634.67 L499.79,636.17 L499.98,637.67 L500.17,639.18 L500.35,640.69 L500.53,642.20 L500.71,643.71 L500.88,645.22 L501.05,646.74 L501.22,648.25 L501.38,649.77 L501.54,651.29 L501.71,652.81 L501.87,654.33 L502.03,655.85 L502.19,657.36 L502.36,658.88 L502.53,660.40 L502.70,661.92 L502.87,663.43 L503.04,664.95 L503.22,666.46 L503.41,667.97 L503.59,669.48 L503.79,670.99 L503.99,672.50 L504.20,674.00 L504.41,675.50 L504.63,677.00 L504.86,678.50 L505.10,679.99 L505.34,681.48 L505.59,682.97 L505.85,684.45 L506.12,685.93 L506.39,687.41 L506.66,688.89 L506.95,690.36 L507.24,691.84 L507.54,693.31 L507.84,694.78 L508.15,696.24 L508.47,697.71 L508.79,699.17 L509.11,700.63 L509.45,702.08 L509.78,703.54 L510.13,704.99 L510.48,706.45 L510.83,707.90 L511.19,709.34 L511.55,710.79 L511.92,712.24 L512.30,713.68 L512.68,715.12 L513.06,716.56 L513.45,718.00 L513.84,719.44 L514.23,720.87 L514.63,722.31 L515.04,723.74 L515.44,725.18 L515.85,726.61 L516.27,728.04 L516.69,729.47 L517.11,730.89 L517.53,732.32 L517.96,733.75 L518.39,735.17 L518.83,736.59 L519.26,738.02 L519.70,739.44 L520.15,740.86 L520.59,742.28 L521.04,743.70 L521.49,745.12 L521.94,746.54 L522.39,747.96 L522.85,749.38 L523.30,750.80 L523.76,752.22 L524.22,753.64 L524.69,755.05 L525.15,756.47 L525.61,757.89 L526.08,759.30 L526.55,760.72 L527.02,762.14 L527.48,763.56 L527.95,764.97 L528.42,766.39 L528.89,767.81 L529.36,769.23 L529.84,770.64 L530.31,772.06 L530.78,773.48 L531.25,774.90 L531.72,776.32 L532.19,777.74 L532.66,779.16 L533.13,780.58 L533.60,782.01 L534.07,783.43 L534.53,784.85 L535.00,786.28 L535.47,787.70 L535.93,789.13 L536.39,790.56 L536.85,791.98 L537.31,793.41 L537.77,794.84 L538.23,796.27 L538.68,797.71 L539.14,799.14 L539.59,800.58 L540.03,802.01 L540.48,803.45 L540.92,804.89 L541.36,806.33 L541.80,807.78 L542.24,809.22 L542.67,810.67 L543.10,812.11 L543.53,813.56 L543.95,815.01 L544.37,816.47 L544.79,817.92 L545.20,819.38 L545.61,820.84 L546.01,822.30 L546.42,823.76 L546.45,823.90" stroke="#9bbb59"/>
<path d=" M74.40,525.80 L74.77,527.34 L75.22,528.83 L75.74,530.27 L76.33,531.66 L76.99,533.01 L77.70,534.32 L78.48,535.58 L79.30,536.81 L80.18,538.01 L81.09,539.17 L82.05,540.31 L83.03,541.41 L84.05,542.49 L85.09,543.55 L86.16,544.59 L87.23,545.61 L88.33,546.62 L89.42,547.61 L90.53,548.60 L91.64,549.57 L92.75,550.53 L93.87,551.50 L95.00,552.45 L96.12,553.41 L97.24,554.37 L98.37,555.33 L99.50,556.29 L100.62,557.27 L101.74,558.25 L102.86,559.24 L103.97,560.24 L105.08,561.26 L106.18,562.29 L107.27,563.34 L108.36,564.41 L109.44,565.49 L110.51,566.59 L111.56,567.70 L112.61,568.82 L113.64,569.96 L114.66,571.12 L115.67,572.28 L116.66,573.46 L117.63,574.66 L118.59,575.86 L119.53,577.08 L120.45,578.31 L121.35,579.54 L122.23,580.79 L123.09,582.05 L123.92,583.32 L124.74,584.60 L125.53,585.89 L126.29,587.19 L127.03,588.50 L127.74,589.81 L128.42,591.14 L129.07,592.47 L129.70,593.80 L130.29,595.15 L130.87,596.50 L131.41,597.86 L131.93,599.23 L132.43,600.60 L132.91,601.98 L133.36,603.36 L133.79,604.75 L134.20,606.15 L134.59,607.55 L134.96,608.96 L135.31,610.38 L135.65,611.80 L135.97,613.22 L136.27,614.65 L136.56,616.09 L136.83,617.53 L137.09,618.97 L137.34,620.42 L137.57,621.87 L137.80,623.33 L138.01,624.79 L138.22,626.26 L138.41,627.73 L138.60,629.20 L138.78,630.68 L138.95,632.16 L139.12,633.64 L139.28,635.12 L139.44,636.61 L139.59,638.10 L139.73,639.60 L139.88,641.09 L140.01,642.59 L140.15,644.09 L140.29,645.59 L140.42,647.10 L140.55,648.60 L140.69,650.11 L140.82,651.62 L140.95,653.13 L141.09,654.64 L141.23,656.15 L141.37,657.66 L141.51,659.18 L141.66,660.69 L141.81,662.20 L141.97,663.71 L142.13,665.23 L142.30,666.74 L142.48,668.25 L142.66,669.77 L142.86,671.28 L143.05,672.79 L143.26,674.30 L143.48,675.81 L143.70,677.32 L143.93,678.82 L144.17,680.33 L144.41,681.83 L144.67,683.33 L144.93,684.83 L145.20,686.33 L145.47,687.82 L145.76,689.31 L146.05,690.80 L146.35,692.29 L146.65,693.77 L146.97,695.25 L147.29,696.73 L147.62,698.20 L147.95,699.68 L148.30,701.15 L148.64,702.61 L149.00,704.08 L149.36,705.54 L149.73,707.00 L150.10,708.46 L150.48,709.91 L150.86,711.37 L151.25,712.82 L151.65,714.27 L152.05,715.71 L152.45,717.16 L152.86,718.60 L153.27,720.04 L153.69,721.48 L154.11,722.92 L154.53,724.35 L154.96,725.78 L155.39,727.22 L155.83,728.65 L156.27,730.08 L156.71,731.50 L157.15,732.93 L157.60,734.35 L158.05,735.78 L158.50,737.20 L158.95,738.62 L159.41,740.04 L159.86,741.46 L160.32,742.88 L160.78,744.29 L161.24,745.71 L161.70,747.12 L162.16,748.54 L162.62,749.95 L163.08,751.37 L163.55,752.78 L164.01,754.19 L164.47,755.60 L164.93,757.01 L165.40,758.42 L165.86,759.83 L166.32,761.24 L166.78,762.65 L167.23,764.06 L167.69,765.47 L168.14,766.88 L168.60,768.29 L169.05,769.70 L169.49,771.11 L169.94,772.52 L170.39,773.93 L170.83,775.34 L171.28,776.76 L171.72,778.17 L172.16,779.58 L172.60,780.99 L173.04,782.40 L173.49,783.82 L173.93,785.23 L174.37,786.65 L174.81,788.06 L175.26,789.48 L175.70,790.90 L176.15,792.32 L176.60,793.74 L177.04,795.16 L177.49,796.58 L177.95,798.01 L178.40,799.43 L178.86,800.86 L179.32,802.29 L179.78,803.72 L180.24,805.15 L180.71,806.58 L181.18,808.01 L181.66,809.45 L182.14,810.89 L182.62,812.32 L183.11,813.77 L183.60,815.21 L184.09,816.65 L184.59,818.10 L185.10,819.55 L185.61,821.00 L186.12,822.45 L186.64,823.91 L187.17,825.37 L187.40,826.00 M189.59,830.00 L189.59,525.80 M189.59,525.80 L189.95,527.34 L190.40,528.83 L190.92,530.27 L191.51,531.66 L192.17,533.01 L192.89,534.32 L193.66,535.58 L194.49,536.81 L195.36,538.01 L196.28,539.17 L197.23,540.31 L198.22,541.41 L199.24,542.49 L200.28,543.55 L201.34,544.59 L202.42,545.61 L203.51,546.62 L204.61,547.61 L205.71,548.60 L206.82,549.57 L207.94,550.53 L209.06,551.50 L210.18,552.45 L211.30,553.41 L212.43,554.37 L213.56,555.33 L214.68,556.29 L215.80,557.27 L216.92,558.25 L218.04,559.24 L219.15,560.24 L220.26,561.26 L221.36,562.29 L222.46,563.34 L223.55,564.41 L224.62,565.49 L225.69,566.59 L226.75,567.70 L227.79,568.82 L228.83,569.96 L229.85,571.12 L230.85,572.28 L231.84,573.46 L232.82,574.66 L233.78,575.86 L234.71,577.08 L235.63,578.31 L236.54,579.54 L237.42,580.79 L238.27,582.05 L239.11,583.32 L239.92,584.60 L240.71,585.89 L241.47,587.19 L242.21,588.50 L242.92,589.81 L243.60,591.14 L244.26,592.47 L244.88,593.80 L245.48,595.15 L246.05,596.50 L246.60,597.86 L247.12,599.23 L247.62,600.60 L248.09,601.98 L248.54,603.36 L248.97,604.75 L249.38,606.15 L249.77,607.55 L250.15,608.96 L250.50,610.38 L250.83,611.80 L251.15,613.22 L251.46,614.65 L251.74,616.09 L252.02,617.53 L252.28,618.97 L252.52,620.42 L252.76,621.87 L252.98,623.33 L253.20,624.79 L253.40,626.26 L253.60,627.73 L253.79,629.20 L253.97,630.68 L254.14,632.16 L254.31,633.64 L254.47,635.12 L254.62,636.61 L254.77,638.10 L254.92,639.60 L255.06,641.09 L255.20,642.59 L255.34,644.09 L255.47,645.59 L255.61,647.10 L255.74,648.60 L255.87,650.11 L256.00,651.62 L256.14,653.13 L256.27,654.64 L256.41,656.15 L256.55,657.66 L256.70,659.18 L256.85,660.69 L257.00,662.20 L257.16,663.71 L257.32,665.23 L257.49,666.74 L257.66,668.25 L257.85,669.77 L258.04,671.28 L258.24,672.79 L258.45,674.30 L258.66,675.81 L258.88,677.32 L259.11,678.82 L259.35,680.33 L259.60,681.83 L259.85,683.33 L260.11,684.83 L260.38,686.33 L260.66,687.82 L260.94,689.31 L261.23,690.80 L261.53,692.29 L261.84,693.77 L262.15,695.25 L262.47,696.73 L262.80,698.20 L263.14,699.68 L263.48,701.15 L263.83,702.61 L264.18,704.08 L264.55,705.54 L264.91,707.00 L265.29,708.46 L265.66,709.91 L266.05,711.37 L266.44,712.82 L266.83,714.27 L267.23,715.71 L267.64,717.16 L268.04,718.60 L268.46,720.04 L268.87,721.48 L269.29,722.92 L269.72,724.35 L270.15,725.78 L270.58,727.22 L271.01,728.65 L271.45,730.08 L271.89,731.50 L272.34,732.93 L272.78,734.35 L273.23,735.78 L273.68,737.20 L274.14,738.62 L274.59,740.04 L275.05,741.46 L275.50,742.88 L275.96,744.29 L276.42,745.71 L276.88,747.12 L277.35,748.54 L277.81,749.95 L278.27,751.37 L278.73,752.78 L279.20,754.19 L279.66,755.60 L280.12,757.01 L280.58,758.42 L281.04,759.83 L281.50,761.24 L281.96,762.65 L282.42,764.06 L282.87,765.47 L283.33,766.88 L283.78,768.29 L284.23,769.70 L284.68,771.11 L285.13,772.52 L285.57,773.93 L286.02,775.34 L286.46,776.76 L286.90,778.17 L287.35,779.58 L287.79,780.99 L288.23,782.40 L288.67,783.82 L289.11,785.23 L289.56,786.65 L290.00,788.06 L290.44,789.48 L290.89,790.90 L291.33,792.32 L291.78,793.74 L292.23,795.16 L292.68,796.58 L293.13,798.01 L293.59,799.43 L294.04,800.86 L294.50,802.29 L294.96,803.72 L295.43,805.15 L295.90,806.58 L296.37,808.01 L296.84,809.45 L297.32,810.89 L297.80,812.32 L298.29,813.77 L298.78,815.21 L299.28,816.65 L299.78,818.10 L300.28,819.55 L300.79,821.00 L301.31,822.45 L301.83,823.91 L302.35,825.37 L302.58,826.00 M304.77,830.00 L304.77,525.80 M304.77,525.80 L305.14,527.34 L305.59,528.83 L306.11,530.27 L306.70,531.66 L307.36,533.01 L308.07,534.32 L308.85,535.58 L309.67,536.81 L310.55,538.01 L311.46,539.17 L312.42,540.31 L313.40,541.41 L314.42,542.49 L315.46,543.55 L316.53,544.59 L317.60,545.61 L318.70,546.62 L319.79,547.61 L320.90,548.60 L322.01,549.57 L323.12,550.53 L324.24,551.50 L325.37,552.45 L326.49,553.41 L327.61,554.37 L328.74,555.33 L329.87,556.29 L330.99,557.27 L332.11,558.25 L333.23,559.24 L334.34,560.24 L335.45,561.26 L336.55,562.29 L337.64,563.34 L338.73,564.41 L339.81,565.49 L340.88,566.59 L341.93,567.70 L342.98,568.82 L344.01,569.96 L345.03,571.12 L346.04,572.28 L347.03,573.46 L348.00,574.66 L348.96,575.86 L349.90,577.08 L350.82,578.31 L351.72,579.54 L352.60,580.79 L353.46,582.05 L354.29,583.32 L355.11,584.60 L355.90,585.89 L356.66,587.19 L357.40,588.50 L358.11,589.81 L358.79,591.14 L359.44,592.47 L360.07,593.80 L360.66,595.15 L361.24,596.50 L361.78,597.86 L362.30,599.23 L362.80,600.60 L363.28,601.98 L363.73,603.36 L364.16,604.75 L364.57,606.15 L364.96,607.55 L365.33,608.96 L365.68,610.38 L366.02,611.80 L366.34,613.22 L366.64,614.65 L366.93,616.09 L367.20,617.53 L367.46,618.97 L367.71,620.42 L367.94,621.87 L368.17,623.33 L368.38,624.79 L368.59,626.26 L368.78,627.73 L368.97,629.20 L369.15,630.68 L369.32,632.16 L369.49,633.64 L369.65,635.12 L369.81,636.61 L369.96,638.10 L370.10,639.60 L370.25,641.09 L370.38,642.59 L370.52,644.09 L370.66,645.59 L370.79,647.10 L370.92,648.60 L371.06,650.11 L371.19,651.62 L371.32,653.13 L371.46,654.64 L371.60,656.15 L371.74,657.66 L371.88,659.18 L372.03,660.69 L372.18,662.20 L372.34,663.71 L372.50,665.23 L372.67,666.74 L372.85,668.25 L373.03,669.77 L373.23,671.28 L373.42,672.79 L373.63,674.30 L373.85,675.81 L374.07,677.32 L374.30,678.82 L374.54,680.33 L374.78,681.83 L375.04,683.33 L375.30,684.83 L375.57,686.33 L375.84,687.82 L376.13,689.31 L376.42,690.80 L376.72,692.29 L377.02,693.77 L377.34,695.25 L377.66,696.73 L377.99,698.20 L378.32,699.68 L378.67,701.15 L379.01,702.61 L379.37,704.08 L379.73,705.54 L380.10,707.00 L380.47,708.46 L380.85,709.91 L381.23,711.37 L381.62,712.82 L382.02,714.27 L382.42,715.71 L382.82,717.16 L383.23,718.60 L383.64,720.04 L384.06,721.48 L384.48,722.92 L384.90,724.35 L385.33,725.78 L385.76,727.22 L386.20,728.65 L386.64,730.08 L387.08,731.50 L387.52,732.93 L387.97,734.35 L388.42,735.78 L388.87,737.20 L389.32,738.62 L389.78,740.04 L390.23,741.46 L390.69,742.88 L391.15,744.29 L391.61,745.71 L392.07,747.12 L392.53,748.54 L392.99,749.95 L393.45,751.37 L393.92,752.78 L394.38,754.19 L394.84,755.60 L395.30,757.01 L395.77,758.42 L396.23,759.83 L396.69,761.24 L397.15,762.65 L397.60,764.06 L398.06,765.47 L398.51,766.88 L398.97,768.29 L399.42,769.70 L399.86,771.11 L400.31,772.52 L400.76,773.93 L401.20,775.34 L401.65,776.76 L402.09,778.17 L402.53,779.58 L402.97,780.99 L403.41,782.40 L403.86,783.82 L404.30,785.23 L404.74,786.65 L405.18,788.06 L405.63,789.48 L406.07,790.90 L406.52,792.32 L406.97,793.74 L407.41,795.16 L407.86,796.58 L408.32,798.01 L408.77,799.43 L409.23,800.86 L409.69,802.29 L410.15,803.72 L410.61,805.15 L411.08,806.58 L411.55,808.01 L412.03,809.45 L412.51,810.89 L412.99,812.32 L413.48,813.77 L413.97,815.21 L414.46,816.65 L414.96,818.10 L415.47,819.55 L415.98,821.00 L416.49,822.45 L417.01,823.91 L417.54,825.37 L417.77,826.00 M419.95,830.00 L419.95,525.80 M419.96,525.80 L420.32,527.34 L420.77,528.83 L421.29,530.27 L421.88,531.66 L422.54,533.01 L423.26,534.32 L424.03,535.58 L424.86,536.81 L425.73,538.01 L426.65,539.17 L427.60,540.31 L428.59,541.41 L429.61,542.49 L430.65,543.55 L431.71,544.59 L432.79,545.61 L433.88,546.62 L434.98,547.61 L436.08,548.60 L437.19,549.57 L438.31,550.53 L439.43,551.50 L440.55,552.45 L441.67,553.41 L442.80,554.37 L443.93,555.33 L445.05,556.29 L446.17,557.27 L447.29,558.25 L448.41,559.24 L449.52,560.24 L450.63,561.26 L451.73,562.29 L452.83,563.34 L453.92,564.41 L454.99,565.49 L456.06,566.59 L457.12,567.70 L458.16,568.82 L459.20,569.96 L460.22,571.12 L461.22,572.28 L462.21,573.46 L463.19,574.66 L464.15,575.86 L465.08,577.08 L466.00,578.31 L466.91,579.54 L467.79,580.79 L468.64,582.05 L469.48,583.32 L470.29,584.60 L471.08,585.89 L471.84,587.19 L472.58,588.50 L473.29,589.81 L473.97,591.14 L474.63,592.47 L475.25,593.80 L475.85,595.15 L476.42,596.50 L476.97,597.86 L477.49,599.23 L477.99,600.60 L478.46,601.98 L478.91,603.36 L479.34,604.75 L479.75,606.15 L480.14,607.55 L480.52,608.96 L480.87,610.38 L481.20,611.80 L481.52,613.22 L481.83,614.65 L482.11,616.09 L482.39,617.53 L482.65,618.97 L482.89,620.42 L483.13,621.87 L483.35,623.33 L483.57,624.79 L483.77,626.26 L483.97,627.73 L484.16,629.20 L484.34,630.68 L484.51,632.16 L484.68,633.64 L484.84,635.12 L484.99,636.61 L485.14,638.10 L485.29,639.60 L485.43,641.09 L485.57,642.59 L485.71,644.09 L485.84,645.59 L485.98,647.10 L486.11,648.60 L486.24,650.11 L486.37,651.62 L486.51,653.13 L486.64,654.64 L486.78,656.15 L486.92,657.66 L487.07,659.18 L487.22,660.69 L487.37,662.20 L487.53,663.71 L487.69,665.23 L487.86,666.74 L488.03,668.25 L488.22,669.77 L488.41,671.28 L488.61,672.79 L488.82,674.30 L489.03,675.81 L489.25,677.32 L489.48,678.82 L489.72,680.33 L489.97,681.83 L490.22,683.33 L490.48,684.83 L490.75,686.33 L491.03,687.82 L491.31,689.31 L491.60,690.80 L491.90,692.29 L492.21,693.77 L492.52,695.25 L492.84,696.73 L493.17,698.20 L493.51,699.68 L493.85,701.15 L494.20,702.61 L494.55,704.08 L494.92,705.54 L495.28,707.00 L495.66,708.46 L496.03,709.91 L496.42,711.37 L496.81,712.82 L497.20,714.27 L497.60,715.71 L498.01,717.16 L498.41,718.60 L498.83,720.04 L499.24,721.48 L499.66,722.92 L500.09,724.35 L500.52,725.78 L500.95,727.22 L501.38,728.65 L501.82,730.08 L502.26,731.50 L502.71,732.93 L503.15,734.35 L503.60,735.78 L504.05,737.20 L504.51,738.62 L504.96,740.04 L505.42,741.46 L505.87,742.88 L506.33,744.29 L506.79,745.71 L507.25,747.12 L507.72,748.54 L508.18,749.95 L508.64,751.37 L509.10,752.78 L509.57,754.19 L510.03,755.60 L510.49,757.01 L510.95,758.42 L511.41,759.83 L511.87,761.24 L512.33,762.65 L512.79,764.06 L513.24,765.47 L513.70,766.88 L514.15,768.29 L514.60,769.70 L515.05,771.11 L515.50,772.52 L515.94,773.93 L516.39,775.34 L516.83,776.76 L517.27,778.17 L517.72,779.58 L518.16,780.99 L518.60,782.40 L519.04,783.82 L519.48,785.23 L519.93,786.65 L520.37,788.06 L520.81,789.48 L521.26,790.90 L521.70,792.32 L522.15,793.74 L522.60,795.16 L523.05,796.58 L523.50,798.01 L523.96,799.43 L524.41,800.86 L524.87,802.29 L525.33,803.72 L525.80,805.15 L526.27,806.58 L526.74,808.01 L527.21,809.45 L527.69,810.89 L528.17,812.32 L528.66,813.77 L529.15,815.21 L529.65,816.65 L530.15,818.10 L530.65,819.55 L531.16,821.00 L531.68,822.45 L532.20,823.91 L532.72,825.37 L532.95,826.00" stroke="#c0504d"/>
<path d=" M74.40,568.19 L74.87,569.61 L75.34,571.04 L75.80,572.48 L76.26,573.91 L76.72,575.34 L77.18,576.78 L77.63,578.22 L78.08,579.65 L78.53,581.10 L78.97,582.54 L79.41,583.98 L79.84,585.43 L80.27,586.87 L80.69,588.32 L81.10,589.77 L81.51,591.22 L81.92,592.67 L82.31,594.13 L82.70,595.58 L83.09,597.04 L83.46,598.49 L83.83,599.95 L84.18,601.41 L84.53,602.87 L84.88,604.33 L85.21,605.79 L85.53,607.26 L85.84,608.72 L86.15,610.18 L86.44,611.65 L86.72,613.12 L86.99,614.58 L87.25,616.05 L87.51,617.52 L87.75,618.99 L87.98,620.46 L88.20,621.93 L88.42,623.40 L88.62,624.87 L88.82,626.35 L89.01,627.82 L89.19,629.29 L89.36,630.77 L89.52,632.24 L89.68,633.72 L89.82,635.19 L89.96,636.67 L90.09,638.14 L90.22,639.62 L90.34,641.09 L90.45,642.57 L90.56,644.05 L90.67,645.52 L90.78,647.00 L90.88,648.48 L90.98,649.96 L91.08,651.43 L91.18,652.91 L91.29,654.39 L91.39,655.86 L91.50,657.34 L91.62,658.82 L91.74,660.29 L91.86,661.77 L91.99,663.24 L92.13,664.72 L92.27,666.19 L92.43,667.67 L92.59,669.14 L92.76,670.62 L92.95,672.09 L93.14,673.56 L93.35,675.04 L93.56,676.51 L93.79,677.98 L94.02,679.45 L94.27,680.92 L94.52,682.39 L94.78,683.86 L95.05,685.33 L95.33,686.80 L95.62,688.27 L95.91,689.74 L96.22,691.20 L96.53,692.67 L96.85,694.14 L97.18,695.60 L97.51,697.07 L97.85,698.53 L98.20,700.00 L98.55,701.46 L98.91,702.93 L99.28,704.39 L99.65,705.85 L100.03,707.31 L100.41,708.78 L100.80,710.24 L101.19,711.70 L101.59,713.16 L101.99,714.62 L102.40,716.08 L102.81,717.53 L103.23,718.99 L103.64,720.45 L104.07,721.91 L104.49,723.36 L104.92,724.82 L105.36,726.27 L105.79,727.73 L106.23,729.18 L106.67,730.64 L107.11,732.09 L107.55,733.54 L108.00,734.99 L108.45,736.44 L108.90,737.90 L109.35,739.35 L109.80,740.79 L110.25,742.24 L110.70,743.69 L111.16,745.14 L111.61,746.59 L112.07,748.03 L112.53,749.48 L112.98,750.92 L113.44,752.37 L113.90,753.81 L114.36,755.26 L114.82,756.70 L115.28,758.14 L115.74,759.58 L116.21,761.03 L116.67,762.47 L117.13,763.91 L117.59,765.34 L118.05,766.78 L118.51,768.22 L118.97,769.66 L119.44,771.09 L119.90,772.53 L120.36,773.97 L120.82,775.40 L121.28,776.83 L121.74,778.27 L122.20,779.70 L122.65,781.13 L123.11,782.56 L123.57,783.99 L124.02,785.42 L124.48,786.85 L124.93,788.28 L125.39,789.71 L125.84,791.14 L126.29,792.56 L126.74,793.99 L127.18,795.42 L127.63,796.84 L128.08,798.26 L128.52,799.69 L128.96,801.11 L129.40,802.53 L129.84,803.95 L130.28,805.37 L130.71,806.79 L131.15,808.21 L131.58,809.63 L132.00,811.05 L132.43,812.46 L132.86,813.88 L133.28,815.29 L133.70,816.71 L134.12,818.12 L134.53,819.53 L134.94,820.95 L135.35,822.36 L135.76,823.77 L136.17,825.18 L136.40,825.99 M189.59,830.00 L189.59,568.20 M189.59,568.19 L190.05,569.61 L190.52,571.04 L190.99,572.48 L191.45,573.91 L191.91,575.34 L192.37,576.78 L192.82,578.22 L193.27,579.65 L193.72,581.10 L194.16,582.54 L194.59,583.98 L195.03,585.43 L195.45,586.87 L195.87,588.32 L196.29,589.77 L196.70,591.22 L197.10,592.67 L197.50,594.13 L197.89,595.58 L198.27,597.04 L198.64,598.49 L199.01,599.95 L199.37,601.41 L199.72,602.87 L200.06,604.33 L200.39,605.79 L200.72,607.26 L201.03,608.72 L201.33,610.18 L201.62,611.65 L201.91,613.12 L202.18,614.58 L202.44,616.05 L202.69,617.52 L202.93,618.99 L203.17,620.46 L203.39,621.93 L203.60,623.40 L203.81,624.87 L204.01,626.35 L204.19,627.82 L204.37,629.29 L204.54,630.77 L204.71,632.24 L204.86,633.72 L205.01,635.19 L205.15,636.67 L205.28,638.14 L205.40,639.62 L205.52,641.09 L205.64,642.57 L205.75,644.05 L205.86,645.52 L205.96,647.00 L206.06,648.48 L206.17,649.96 L206.27,651.43 L206.37,652.91 L206.47,654.39 L206.58,655.86 L206.69,657.34 L206.80,658.82 L206.92,660.29 L207.04,661.77 L207.17,663.24 L207.31,664.72 L207.46,666.19 L207.61,667.67 L207.77,669.14 L207.95,670.62 L208.13,672.09 L208.33,673.56 L208.53,675.04 L208.75,676.51 L208.97,677.98 L209.21,679.45 L209.45,680.92 L209.70,682.39 L209.97,683.86 L210.24,685.33 L210.52,686.80 L210.80,688.27 L211.10,689.74 L211.40,691.20 L211.72,692.67 L212.03,694.14 L212.36,695.60 L212.69,697.07 L213.03,698.53 L213.38,700.00 L213.74,701.46 L214.10,702.93 L214.46,704.39 L214.83,705.85 L215.21,707.31 L215.59,708.78 L215.98,710.24 L216.38,711.70 L216.77,713.16 L217.18,714.62 L217.58,716.08 L218.00,717.53 L218.41,718.99 L218.83,720.45 L219.25,721.91 L219.68,723.36 L220.11,724.82 L220.54,726.27 L220.98,727.73 L221.41,729.18 L221.85,730.64 L222.30,732.09 L222.74,733.54 L223.19,734.99 L223.63,736.44 L224.08,737.90 L224.53,739.35 L224.98,740.79 L225.44,742.24 L225.89,743.69 L226.34,745.14 L226.80,746.59 L227.25,748.03 L227.71,749.48 L228.17,750.92 L228.63,752.37 L229.09,753.81 L229.55,755.26 L230.01,756.70 L230.47,758.14 L230.93,759.58 L231.39,761.03 L231.85,762.47 L232.31,763.91 L232.78,765.34 L233.24,766.78 L233.70,768.22 L234.16,769.66 L234.62,771.09 L235.08,772.53 L235.54,773.97 L236.00,775.40 L236.46,776.83 L236.92,778.27 L237.38,779.70 L237.84,781.13 L238.30,782.56 L238.75,783.99 L239.21,785.42 L239.66,786.85 L240.12,788.28 L240.57,789.71 L241.02,791.14 L241.47,792.56 L241.92,793.99 L242.37,795.42 L242.82,796.84 L243.26,798.26 L243.70,799.69 L244.15,801.11 L244.59,802.53 L245.03,803.95 L245.46,805.37 L245.90,806.79 L246.33,808.21 L246.76,809.63 L247.19,811.05 L247.62,812.46 L248.04,813.88 L248.46,815.29 L248.88,816.71 L249.30,818.12 L249.72,819.53 L250.13,820.95 L250.54,822.36 L250.95,823.77 L251.35,825.18 L251.58,825.99 M304.77,830.00 L304.77,568.20 M304.77,568.19 L305.24,569.61 L305.71,571.04 L306.17,572.48 L306.63,573.91 L307.09,575.34 L307.55,576.78 L308.00,578.22 L308.45,579.65 L308.90,581.10 L309.34,582.54 L309.78,583.98 L310.21,585.43 L310.64,586.87 L311.06,588.32 L311.47,589.77 L311.88,591.22 L312.29,592.67 L312.68,594.13 L313.07,595.58 L313.46,597.04 L313.83,598.49 L314.20,599.95 L314.55,601.41 L314.90,602.87 L315.25,604.33 L315.58,605.79 L315.90,607.26 L316.21,608.72 L316.52,610.18 L316.81,611.65 L317.09,613.12 L317.36,614.58 L317.62,616.05 L317.88,617.52 L318.12,618.99 L318.35,620.46 L318.57,621.93 L318.79,623.40 L318.99,624.87 L319.19,626.35 L319.38,627.82 L319.56,629.29 L319.73,630.77 L319.89,632.24 L320.05,633.72 L320.19,635.19 L320.33,636.67 L320.46,638.14 L320.59,639.62 L320.71,641.09 L320.82,642.57 L320.93,644.05 L321.04,645.52 L321.15,647.00 L321.25,648.48 L321.35,649.96 L321.45,651.43 L321.55,652.91 L321.66,654.39 L321.76,655.86 L321.87,657.34 L321.99,658.82 L322.11,660.29 L322.23,661.77 L322.36,663.24 L322.50,664.72 L322.64,666.19 L322.80,667.67 L322.96,669.14 L323.13,670.62 L323.32,672.09 L323.51,673.56 L323.72,675.04 L323.93,676.51 L324.16,677.98 L324.39,679.45 L324.64,680.92 L324.89,682.39 L325.15,683.86 L325.42,685.33 L325.70,686.80 L325.99,688.27 L326.28,689.74 L326.59,691.20 L326.90,692.67 L327.22,694.14 L327.55,695.60 L327.88,697.07 L328.22,698.53 L328.57,700.00 L328.92,701.46 L329.28,702.93 L329.65,704.39 L330.02,705.85 L330.40,707.31 L330.78,708.78 L331.17,710.24 L331.56,711.70 L331.96,713.16 L332.36,714.62 L332.77,716.08 L333.18,717.53 L333.60,718.99 L334.01,720.45 L334.44,721.91 L334.86,723.36 L335.29,724.82 L335.73,726.27 L336.16,727.73 L336.60,729.18 L337.04,730.64 L337.48,732.09 L337.92,733.54 L338.37,734.99 L338.82,736.44 L339.27,737.90 L339.72,739.35 L340.17,740.79 L340.62,742.24 L341.07,743.69 L341.53,745.14 L341.98,746.59 L342.44,748.03 L342.90,749.48 L343.35,750.92 L343.81,752.37 L344.27,753.81 L344.73,755.26 L345.19,756.70 L345.65,758.14 L346.11,759.58 L346.58,761.03 L347.04,762.47 L347.50,763.91 L347.96,765.34 L348.42,766.78 L348.88,768.22 L349.34,769.66 L349.81,771.09 L350.27,772.53 L350.73,773.97 L351.19,775.40 L351.65,776.83 L352.11,778.27 L352.57,779.70 L353.02,781.13 L353.48,782.56 L353.94,783.99 L354.39,785.42 L354.85,786.85 L355.30,788.28 L355.76,789.71 L356.21,791.14 L356.66,792.56 L357.11,793.99 L357.55,795.42 L358.00,796.84 L358.45,798.26 L358.89,799.69 L359.33,801.11 L359.77,802.53 L360.21,803.95 L360.65,805.37 L361.08,806.79 L361.52,808.21 L361.95,809.63 L362.37,811.05 L362.80,812.46 L363.23,813.88 L363.65,815.29 L364.07,816.71 L364.49,818.12 L364.90,819.53 L365.31,820.95 L365.72,822.36 L366.13,823.77 L366.54,825.18 L366.77,825.99 M419.95,830.00 L419.95,568.20 M419.96,568.19 L420.42,569.61 L420.89,571.04 L421.36,572.48 L421.82,573.91 L422.28,575.34 L422.74,576.78 L423.19,578.22 L423.64,579.65 L424.09,581.10 L424.53,582.54 L424.96,583.98 L425.40,585.43 L425.82,586.87 L426.24,588.32 L426.66,589.77 L427.07,591.22 L427.47,592.67 L427.87,594.13 L428.26,595.58 L428.64,597.04 L429.01,598.49 L429.38,599.95 L429.74,601.41 L430.09,602.87 L430.43,604.33 L430.76,605.79 L431.09,607.26 L431.40,608.72 L431.70,610.18 L431.99,611.65 L432.28,613.12 L432.55,614.58 L432.81,616.05 L433.06,617.52 L433.30,618.99 L433.54,620.46 L433.76,621.93 L433.97,623.40 L434.18,624.87 L434.38,626.35 L434.56,627.82 L434.74,629.29 L434.91,630.77 L435.08,632.24 L435.23,633.72 L435.38,635.19 L435.52,636.67 L435.65,638.14 L435.77,639.62 L435.89,641.09 L436.01,642.57 L436.12,644.05 L436.23,645.52 L436.33,647.00 L436.43,648.48 L436.54,649.96 L436.64,651.43 L436.74,652.91 L436.84,654.39 L436.95,655.86 L437.06,657.34 L437.17,658.82 L437.29,660.29 L437.41,661.77 L437.54,663.24 L437.68,664.72 L437.83,666.19 L437.98,667.67 L438.14,669.14 L438.32,670.62 L438.50,672.09 L438.70,673.56 L438.90,675.04 L439.12,676.51 L439.34,677.98 L439.58,679.45 L439.82,680.92 L440.07,682.39 L440.34,683.86 L440.61,685.33 L440.89,686.80 L441.17,688.27 L441.47,689.74 L441.77,691.20 L442.09,692.67 L442.40,694.14 L442.73,695.60 L443.06,697.07 L443.40,698.53 L443.75,700.00 L444.11,701.46 L444.47,702.93 L444.83,704.39 L445.20,705.85 L445.58,707.31 L445.96,708.78 L446.35,710.24 L446.75,711.70 L447.14,713.16 L447.55,714.62 L447.95,716.08 L448.37,717.53 L448.78,718.99 L449.20,720.45 L449.62,721.91 L450.05,723.36 L450.48,724.82 L450.91,726.27 L451.35,727.73 L451.78,729.18 L452.22,730.64 L452.67,732.09 L453.11,733.54 L453.56,734.99 L454.00,736.44 L454.45,737.90 L454.90,739.35 L455.35,740.79 L455.81,742.24 L456.26,743.69 L456.71,745.14 L457.17,746.59 L457.62,748.03 L458.08,749.48 L458.54,750.92 L459.00,752.37 L459.46,753.81 L459.92,755.26 L460.38,756.70 L460.84,758.14 L461.30,759.58 L461.76,761.03 L462.22,762.47 L462.68,763.91 L463.15,765.34 L463.61,766.78 L464.07,768.22 L464.53,769.66 L464.99,771.09 L465.45,772.53 L465.91,773.97 L466.37,775.40 L466.83,776.83 L467.29,778.27 L467.75,779.70 L468.21,781.13 L468.67,782.56 L469.12,783.99 L469.58,785.42 L470.03,786.85 L470.49,788.28 L470.94,789.71 L471.39,791.14 L471.84,792.56 L472.29,793.99 L472.74,795.42 L473.19,796.84 L473.63,798.26 L474.07,799.69 L474.52,801.11 L474.96,802.53 L475.40,803.95 L475.83,805.37 L476.27,806.79 L476.70,808.21 L477.13,809.63 L477.56,811.05 L477.99,812.46 L478.41,813.88 L478.83,815.29 L479.25,816.71 L479.67,818.12 L480.09,819.53 L480.50,820.95 L480.91,822.36 L481.32,823.77 L481.72,825.18 L481.95,825.99" stroke="#4a7ebb"/>
</g>
<path d="M651,602.4 H673.1" stroke="#4bacc6" stroke-width="2.3"/>
<text x="675.6" y="607.2" font-size="14.00" text-anchor="start" font-weight="normal" fill="#111" stroke="#111" stroke-width="0.25" textLength="50.4" lengthAdjust="spacingAndGlyphs">3 mg/kg</text>
<path d="M651,631.4 H673.1" stroke="#7f62a8" stroke-width="2.3"/>
<text x="675.6" y="636.1" font-size="14.00" text-anchor="start" font-weight="normal" fill="#111" stroke="#111" stroke-width="0.25" textLength="61.9" lengthAdjust="spacingAndGlyphs">1.5 mg/kg</text>
<path d="M651,660.3 H673.1" stroke="#9bbb59" stroke-width="2.3"/>
<text x="675.6" y="665.1" font-size="14.00" text-anchor="start" font-weight="normal" fill="#111" stroke="#111" stroke-width="0.25" textLength="61.9" lengthAdjust="spacingAndGlyphs">1.2 mg/kg</text>
<path d="M651,689.2 H673.1" stroke="#c0504d" stroke-width="2.3"/>
<text x="675.6" y="694.0" font-size="14.00" text-anchor="start" font-weight="normal" fill="#111" stroke="#111" stroke-width="0.25" textLength="61.9" lengthAdjust="spacingAndGlyphs">0.9 mg/kg</text>
<path d="M651,718.2 H673.1" stroke="#4a7ebb" stroke-width="2.3"/>
<text x="675.6" y="723.0" font-size="14.00" text-anchor="start" font-weight="normal" fill="#111" stroke="#111" stroke-width="0.25" textLength="69.6" lengthAdjust="spacingAndGlyphs">0.15 mg/kg</text>
<path d="M69.5,1263.4 H568.1 M69.5,1211.9 H568.1 M69.5,1161.4 H568.1 M69.5,1109.8 H568.1 M69.5,1058.3 H568.1 M69.5,1006.8 H568.1 M69.5,955.5 H568.1 M69.5,904.4 H568.1 M73.5,904.4 V1267.9 M123.5,1263.4 V1267.9 M172.5,1263.4 V1267.9 M222.5,1263.4 V1267.9 M271.5,1263.4 V1267.9 M321.5,1263.4 V1267.9 M370.5,1263.4 V1267.9 M420.5,1263.4 V1267.9 M469.5,1263.4 V1267.9 M519.5,1263.4 V1267.9 M568.5,1263.4 V1267.9" stroke="#8c8c8c" stroke-width="1" fill="none"/>
<text x="61.8" y="908.0" font-size="10.30" text-anchor="end" font-weight="normal" fill="#111" stroke="#111" stroke-width="0.25" textLength="16.9" lengthAdjust="spacingAndGlyphs">100</text>
<text x="61.8" y="959.1" font-size="10.30" text-anchor="end" font-weight="normal" fill="#111" stroke="#111" stroke-width="0.25" textLength="11.3" lengthAdjust="spacingAndGlyphs">10</text>
<text x="61.8" y="1010.4" font-size="10.30" text-anchor="end" font-weight="normal" fill="#111" stroke="#111" stroke-width="0.25" textLength="5.6" lengthAdjust="spacingAndGlyphs">1</text>
<text x="61.8" y="1061.9" font-size="10.30" text-anchor="end" font-weight="normal" fill="#111" stroke="#111" stroke-width="0.25" textLength="14.1" lengthAdjust="spacingAndGlyphs">0.1</text>
<text x="61.8" y="1113.3" font-size="10.30" text-anchor="end" font-weight="normal" fill="#111" stroke="#111" stroke-width="0.25" textLength="19.7" lengthAdjust="spacingAndGlyphs">0.01</text>
<text x="61.8" y="1165.0" font-size="10.30" text-anchor="end" font-weight="normal" fill="#111" stroke="#111" stroke-width="0.25" textLength="25.3" lengthAdjust="spacingAndGlyphs">0.001</text>
<text x="61.8" y="1215.5" font-size="10.30" text-anchor="end" font-weight="normal" fill="#111" stroke="#111" stroke-width="0.25" textLength="30.9" lengthAdjust="spacingAndGlyphs">0.0001</text>
<text x="61.8" y="1267.0" font-size="10.30" text-anchor="end" font-weight="normal" fill="#111" stroke="#111" stroke-width="0.25" textLength="36.6" lengthAdjust="spacingAndGlyphs">0.00001</text>
<text x="73.5" y="1282.6" font-size="10.30" text-anchor="middle" font-weight="normal" fill="#111" stroke="#111" stroke-width="0.25" textLength="5.6" lengthAdjust="spacingAndGlyphs">0</text>
<text x="123.0" y="1282.6" font-size="10.30" text-anchor="middle" font-weight="normal" fill="#111" stroke="#111" stroke-width="0.25" textLength="11.3" lengthAdjust="spacingAndGlyphs">10</text>
<text x="172.4" y="1282.6" font-size="10.30" text-anchor="middle" font-weight="normal" fill="#111" stroke="#111" stroke-width="0.25" textLength="11.3" lengthAdjust="spacingAndGlyphs">20</text>
<text x="221.9" y="1282.6" font-size="10.30" text-anchor="middle" font-weight="normal" fill="#111" stroke="#111" stroke-width="0.25" textLength="11.3" lengthAdjust="spacingAndGlyphs">30</text>
<text x="271.3" y="1282.6" font-size="10.30" text-anchor="middle" font-weight="normal" fill="#111" stroke="#111" stroke-width="0.25" textLength="11.3" lengthAdjust="spacingAndGlyphs">40</text>
<text x="320.8" y="1282.6" font-size="10.30" text-anchor="middle" font-weight="normal" fill="#111" stroke="#111" stroke-width="0.25" textLength="11.3" lengthAdjust="spacingAndGlyphs">50</text>
<text x="370.3" y="1282.6" font-size="10.30" text-anchor="middle" font-weight="normal" fill="#111" stroke="#111" stroke-width="0.25" textLength="11.3" lengthAdjust="spacingAndGlyphs">60</text>
<text x="419.7" y="1282.6" font-size="10.30" text-anchor="middle" font-weight="normal" fill="#111" stroke="#111" stroke-width="0.25" textLength="11.3" lengthAdjust="spacingAndGlyphs">70</text>
<text x="469.2" y="1282.6" font-size="10.30" text-anchor="middle" font-weight="normal" fill="#111" stroke="#111" stroke-width="0.25" textLength="11.3" lengthAdjust="spacingAndGlyphs">80</text>
<text x="518.6" y="1282.6" font-size="10.30" text-anchor="middle" font-weight="normal" fill="#111" stroke="#111" stroke-width="0.25" textLength="11.3" lengthAdjust="spacingAndGlyphs">90</text>
<text x="568.1" y="1282.6" font-size="10.30" text-anchor="middle" font-weight="normal" fill="#111" stroke="#111" stroke-width="0.25" textLength="16.9" lengthAdjust="spacingAndGlyphs">100</text>
<text x="315.7" y="1308.3" font-size="13.50" text-anchor="middle" font-weight="bold" fill="#000" stroke="#000" stroke-width="0.10" textLength="79.0" lengthAdjust="spacingAndGlyphs">Time (Days)</text>
<text transform="translate(11.2,1080.0) rotate(-90)" font-size="15.00" text-anchor="middle" font-weight="bold" textLength="145.3" lengthAdjust="spacingAndGlyphs">Concentration (µg/ml)</text>
<text x="6.7" y="906.8" font-size="20.00" text-anchor="start" font-weight="bold" fill="#000" stroke="#000" stroke-width="0.10" textLength="24.9" lengthAdjust="spacingAndGlyphs">(c)</text>
<clipPath id="cc"><rect x="73" y="894.3" width="496" height="369.0"/></clipPath>
<g clip-path="url(#cc)" fill="none" stroke-width="2.4" stroke-linejoin="round">
<path d=" M73.49,936.30 L73.98,937.86 L74.54,939.35 L75.15,940.78 L75.83,942.14 L76.56,943.45 L77.34,944.69 L78.18,945.89 L79.06,947.03 L80.00,948.12 L80.97,949.16 L81.99,950.16 L83.05,951.12 L84.14,952.04 L85.27,952.93 L86.44,953.78 L87.63,954.59 L88.85,955.38 L90.09,956.14 L91.36,956.88 L92.65,957.60 L93.95,958.30 L95.28,958.98 L96.61,959.65 L97.96,960.31 L99.31,960.96 L100.67,961.61 L102.03,962.25 L103.40,962.89 L104.76,963.52 L106.13,964.16 L107.50,964.80 L108.87,965.43 L110.24,966.07 L111.61,966.70 L112.98,967.33 L114.36,967.97 L115.73,968.60 L117.11,969.23 L118.48,969.87 L119.86,970.50 L121.23,971.13 L122.61,971.76 L123.98,972.40 L125.36,973.03 L126.73,973.66 L128.11,974.30 L129.48,974.93 L130.85,975.57 L132.23,976.21 L133.60,976.85 L134.97,977.49 L136.34,978.13 L137.71,978.77 L139.08,979.41 L140.44,980.06 L141.81,980.70 L143.17,981.35 L144.53,982.00 L145.89,982.66 L147.25,983.31 L148.61,983.97 L149.96,984.63 L151.31,985.29 L152.66,985.95 L154.01,986.62 L155.35,987.29 L156.70,987.96 L158.03,988.64 L159.37,989.32 L160.70,990.00 L162.03,990.69 L163.36,991.38 L164.68,992.07 L166.00,992.76 L167.32,993.46 L168.63,994.17 L169.94,994.87 L171.25,995.59 L172.55,996.30 L173.85,997.02 L175.14,997.74 L176.43,998.47 L177.36,999.00 L177.37,936.00 M177.36,936.00 L178.16,937.35 L179.00,938.64 L179.88,939.89 L180.79,941.10 L181.73,942.25 L182.70,943.37 L183.70,944.45 L184.74,945.48 L185.80,946.48 L186.89,947.44 L188.00,948.37 L189.14,949.26 L190.31,950.12 L191.50,950.95 L192.70,951.76 L193.93,952.53 L195.18,953.29 L196.45,954.01 L197.73,954.72 L199.03,955.40 L200.35,956.07 L201.68,956.72 L203.02,957.35 L204.37,957.97 L205.73,958.58 L207.10,959.17 L208.48,959.76 L209.87,960.34 L211.26,960.91 L212.66,961.48 L214.06,962.04 L215.46,962.60 L216.86,963.17 L218.27,963.73 L219.67,964.30 L221.07,964.87 L222.47,965.44 L223.88,966.01 L225.28,966.58 L226.68,967.16 L228.07,967.74 L229.47,968.33 L230.87,968.92 L232.26,969.51 L233.65,970.10 L235.04,970.70 L236.43,971.30 L237.82,971.90 L239.21,972.51 L240.59,973.13 L241.97,973.74 L243.35,974.36 L244.72,974.99 L246.10,975.62 L247.47,976.25 L248.83,976.89 L250.20,977.54 L251.56,978.19 L252.91,978.84 L254.27,979.50 L255.62,980.17 L256.96,980.84 L258.31,981.51 L259.65,982.19 L260.98,982.88 L262.31,983.58 L263.64,984.28 L264.96,984.98 L266.28,985.70 L267.59,986.42 L268.90,987.14 L270.20,987.88 L271.49,988.62 L272.79,989.36 L274.07,990.12 L275.36,990.88 L276.63,991.65 L277.90,992.42 L279.16,993.21 L280.42,994.00 L281.23,994.51 L281.23,936.00 M281.23,936.00 L282.03,937.35 L282.87,938.64 L283.74,939.89 L284.65,941.10 L285.59,942.25 L286.57,943.37 L287.57,944.45 L288.60,945.48 L289.66,946.48 L290.75,947.44 L291.87,948.37 L293.01,949.26 L294.17,950.12 L295.36,950.95 L296.57,951.76 L297.80,952.53 L299.05,953.29 L300.32,954.01 L301.60,954.72 L302.90,955.40 L304.21,956.07 L305.54,956.72 L306.88,957.35 L308.24,957.97 L309.60,958.58 L310.97,959.17 L312.35,959.76 L313.74,960.34 L315.13,960.91 L316.52,961.48 L317.92,962.04 L319.33,962.60 L320.73,963.17 L322.13,963.73 L323.54,964.30 L324.94,964.87 L326.34,965.44 L327.74,966.01 L329.14,966.58 L330.54,967.16 L331.94,967.74 L333.34,968.33 L334.73,968.92 L336.13,969.51 L337.52,970.10 L338.91,970.70 L340.30,971.30 L341.69,971.90 L343.07,972.51 L344.45,973.13 L345.84,973.74 L347.21,974.36 L348.59,974.99 L349.96,975.62 L351.33,976.25 L352.70,976.89 L354.06,977.54 L355.42,978.19 L356.78,978.84 L358.13,979.50 L359.48,980.17 L360.83,980.84 L362.17,981.51 L363.51,982.19 L364.85,982.88 L366.18,983.58 L367.50,984.28 L368.82,984.98 L370.14,985.70 L371.45,986.42 L372.76,987.14 L374.06,987.88 L375.36,988.62 L376.65,989.36 L377.94,990.12 L379.22,990.88 L380.50,991.65 L381.77,992.42 L383.03,993.21 L384.29,994.00 L385.09,994.51 L385.10,936.00 M385.09,936.00 L385.87,937.40 L386.70,938.74 L387.57,940.01 L388.49,941.23 L389.44,942.39 L390.43,943.50 L391.46,944.56 L392.52,945.57 L393.61,946.54 L394.74,947.46 L395.89,948.35 L397.07,949.20 L398.27,950.01 L399.49,950.80 L400.74,951.56 L402.00,952.29 L403.28,952.99 L404.57,953.68 L405.88,954.35 L407.20,955.01 L408.53,955.66 L409.86,956.29 L411.20,956.92 L412.54,957.55 L413.89,958.17 L415.23,958.79 L416.58,959.41 L417.93,960.03 L419.28,960.64 L420.63,961.26 L421.98,961.87 L423.34,962.49 L424.70,963.10 L426.05,963.71 L427.41,964.32 L428.77,964.93 L430.13,965.54 L431.50,966.15 L432.86,966.76 L434.22,967.37 L435.59,967.98 L436.95,968.59 L438.31,969.20 L439.68,969.81 L441.05,970.43 L442.41,971.04 L443.78,971.66 L445.14,972.27 L446.51,972.89 L447.88,973.51 L449.24,974.13 L450.61,974.76 L451.97,975.38 L453.34,976.01 L454.70,976.64 L456.06,977.27 L457.43,977.91 L458.79,978.55 L460.15,979.19 L461.51,979.84 L462.87,980.49 L464.23,981.14 L465.58,981.79 L466.94,982.45 L468.29,983.12 L469.65,983.78 L471.00,984.46 L472.35,985.13 L473.70,985.81 L475.04,986.50 L476.39,987.19 L477.73,987.88 L479.07,988.59 L480.41,989.29 L481.75,990.00 L483.08,990.72 L484.41,991.44 L485.74,992.17 L487.06,992.90 L488.39,993.64 L489.71,994.39 L491.02,995.14 L492.33,995.90 L493.64,996.66 L494.95,997.43 L496.25,998.21 L497.54,998.99 L498.84,999.78 L500.12,1000.57 L501.40,1001.37 L502.68,1002.18 L503.95,1003.00 L505.22,1003.82 L506.48,1004.65 L507.74,1005.49 L508.99,1006.33 L510.23,1007.18 L511.47,1008.04 L512.70,1008.90 L513.92,1009.77 L515.14,1010.65 L516.35,1011.54 L517.56,1012.44 L518.76,1013.34 L519.94,1014.25 L521.13,1015.17 L522.30,1016.10 L523.47,1017.03 L524.63,1017.97 L525.78,1018.92 L526.92,1019.88 L528.05,1020.85 L529.18,1021.83 L530.30,1022.81 L531.40,1023.80 L532.50,1024.81 L533.59,1025.82 L534.67,1026.84 L535.74,1027.87 L536.80,1028.90 L537.85,1029.95 L538.89,1031.01 L539.92,1032.07 L540.93,1033.15 L541.94,1034.23 L542.94,1035.32 L543.92,1036.43 L544.90,1037.54 L545.86,1038.66 L546.81,1039.79 L547.75,1040.94 L548.68,1042.09 L549.60,1043.25 L550.50,1044.42 L551.39,1045.61 L552.27,1046.80 L553.14,1048.00 L553.99,1049.22 L554.83,1050.44 L555.65,1051.68 L556.47,1052.92 L557.27,1054.18 L558.05,1055.45 L558.83,1056.72 L559.58,1058.01 L560.33,1059.31 L561.06,1060.63 L561.77,1061.95 L562.47,1063.28 L563.15,1064.63 L563.82,1065.99 L564.48,1067.36 L565.12,1068.74 L565.74,1070.13 L566.35,1071.53 L566.94,1072.95 L567.51,1074.38 L568.07,1075.82 L568.62,1077.27 L568.70,1077.50" stroke="#c0504d"/>
<path d=" M73.50,937.20 L74.03,938.70 L74.61,940.16 L75.24,941.58 L75.90,942.96 L76.61,944.30 L77.36,945.61 L78.15,946.88 L78.97,948.12 L79.82,949.33 L80.71,950.52 L81.62,951.68 L82.56,952.81 L83.53,953.93 L84.52,955.02 L85.53,956.10 L86.56,957.16 L87.61,958.21 L88.67,959.25 L89.74,960.28 L90.83,961.30 L91.92,962.31 L93.02,963.32 L94.12,964.32 L95.23,965.33 L96.34,966.33 L97.44,967.34 L98.54,968.35 L99.64,969.37 L100.73,970.40 L101.81,971.43 L102.88,972.48 L103.93,973.54 L104.97,974.61 L105.99,975.70 L106.99,976.81 L107.97,977.94 L108.92,979.09 L109.86,980.25 L110.77,981.44 L111.67,982.64 L112.54,983.86 L113.39,985.09 L114.22,986.35 L115.03,987.61 L115.82,988.89 L116.59,990.19 L117.34,991.50 L118.07,992.82 L118.78,994.15 L119.47,995.50 L120.14,996.85 L120.79,998.22 L121.42,999.59 L122.04,1000.98 L122.63,1002.38 L123.21,1003.78 L123.77,1005.19 L124.31,1006.61 L124.83,1008.03 L125.34,1009.46 L125.82,1010.89 L126.29,1012.33 L126.75,1013.78 L127.18,1015.22 L127.60,1016.67 L128.00,1018.13 L128.38,1019.58 L128.75,1021.03 L129.10,1022.49 L129.44,1023.95 L129.76,1025.40 L130.07,1026.86 L130.36,1028.32 L130.64,1029.78 L130.91,1031.24 L131.17,1032.70 L131.41,1034.16 L131.65,1035.63 L131.87,1037.09 L132.09,1038.55 L132.30,1040.02 L132.50,1041.48 L132.69,1042.95 L132.87,1044.41 L133.05,1045.88 L133.22,1047.34 L133.39,1048.81 L133.56,1050.28 L133.72,1051.75 L133.88,1053.21 L134.03,1054.68 L134.19,1056.15 L134.34,1057.62 L134.49,1059.09 L134.64,1060.56 L134.79,1062.03 L134.95,1063.50 L135.10,1064.97 L135.26,1066.44 L135.43,1067.91 L135.59,1069.38 L135.76,1070.85 L135.94,1072.33 L136.12,1073.80 L136.31,1075.27 L136.50,1076.74 L136.70,1078.21 L136.91,1079.68 L137.13,1081.16 L137.36,1082.63 L137.60,1084.10 L137.85,1085.57 L138.11,1087.04 L138.38,1088.52 L138.66,1089.99 L138.95,1091.46 L139.25,1092.93 L139.55,1094.40 L139.87,1095.87 L140.19,1097.34 L140.53,1098.81 L140.87,1100.28 L141.22,1101.75 L141.58,1103.22 L141.94,1104.69 L142.31,1106.16 L142.69,1107.63 L143.08,1109.10 L143.47,1110.57 L143.87,1112.04 L144.28,1113.51 L144.69,1114.97 L145.11,1116.44 L145.54,1117.91 L145.96,1119.37 L146.40,1120.84 L146.84,1122.30 L147.29,1123.77 L147.74,1125.23 L148.19,1126.69 L148.65,1128.15 L149.11,1129.62 L149.58,1131.08 L150.05,1132.54 L150.52,1134.00 L151.00,1135.46 L151.48,1136.92 L151.97,1138.37 L152.45,1139.83 L152.94,1141.29 L153.43,1142.74 L153.92,1144.20 L154.42,1145.65 L154.91,1147.10 L155.41,1148.56 L155.91,1150.01 L156.41,1151.46 L156.91,1152.91 L157.41,1154.35 L157.91,1155.80 L158.42,1157.25 L158.92,1158.69 L159.42,1160.14 L159.92,1161.58 L160.42,1163.02 L160.92,1164.47 L161.42,1165.91 L161.91,1167.35 L162.41,1168.78 L162.90,1170.22 L163.40,1171.66 L163.89,1173.09 L164.37,1174.52 L164.86,1175.96 L165.34,1177.39 L165.82,1178.82 L166.30,1180.24 L166.77,1181.67 L167.24,1183.10 L167.70,1184.52 L168.16,1185.94 L168.62,1187.36 L169.07,1188.78 L169.52,1190.20 L169.97,1191.62 L170.40,1193.04 L170.84,1194.45 L171.27,1195.86 L171.69,1197.27 L172.10,1198.68 L172.51,1200.09 L172.92,1201.50 L173.31,1202.90 L173.71,1204.31 L174.09,1205.71 L174.47,1207.11 L174.84,1208.51 L175.20,1209.90 L175.55,1211.30 L175.90,1212.69 L176.24,1214.08 L176.57,1215.47 L176.89,1216.86 L177.20,1218.24 L177.37,1219.00 L177.37,937.20 M177.36,937.20 L177.91,938.64 L178.49,940.03 L179.13,941.40 L179.80,942.73 L180.52,944.03 L181.27,945.30 L182.07,946.55 L182.89,947.77 L183.75,948.97 L184.64,950.14 L185.56,951.30 L186.50,952.44 L187.47,953.55 L188.46,954.66 L189.48,955.75 L190.51,956.83 L191.55,957.90 L192.62,958.96 L193.69,960.01 L194.77,961.06 L195.87,962.10 L196.96,963.14 L198.07,964.18 L199.17,965.21 L200.28,966.25 L201.38,967.29 L202.48,968.33 L203.57,969.38 L204.66,970.44 L205.73,971.50 L206.80,972.58 L207.84,973.66 L208.88,974.76 L209.89,975.87 L210.89,976.99 L211.86,978.13 L212.81,979.29 L213.74,980.46 L214.65,981.65 L215.54,982.85 L216.40,984.06 L217.25,985.29 L218.07,986.54 L218.88,987.79 L219.66,989.06 L220.42,990.34 L221.17,991.64 L221.89,992.94 L222.60,994.26 L223.28,995.59 L223.95,996.92 L224.60,998.27 L225.23,999.63 L225.84,1001.00 L226.43,1002.37 L227.01,1003.75 L227.56,1005.15 L228.10,1006.55 L228.63,1007.95 L229.13,1009.37 L229.62,1010.79 L230.09,1012.22 L230.55,1013.65 L230.99,1015.09 L231.41,1016.53 L231.82,1017.98 L232.21,1019.43 L232.58,1020.89 L232.95,1022.35 L233.29,1023.81 L233.62,1025.27 L233.94,1026.74 L234.24,1028.21 L234.53,1029.68 L234.80,1031.16 L235.06,1032.63 L235.31,1034.10 L235.54,1035.58 L235.76,1037.05 L235.97,1038.52 L236.17,1040.00 L236.35,1041.47 L236.53,1042.95 L236.71,1044.42 L236.87,1045.89 L237.03,1047.37 L237.18,1048.84 L237.33,1050.31 L237.48,1051.79 L237.62,1053.26 L237.76,1054.73 L237.91,1056.21 L238.05,1057.68 L238.19,1059.15 L238.34,1060.63 L238.49,1062.10 L238.64,1063.57 L238.80,1065.04 L238.96,1066.51 L239.13,1067.99 L239.31,1069.46 L239.50,1070.93 L239.69,1072.40 L239.90,1073.87 L240.11,1075.34 L240.34,1076.81 L240.57,1078.28 L240.81,1079.75 L241.06,1081.22 L241.32,1082.69 L241.58,1084.16 L241.86,1085.63 L242.14,1087.10 L242.43,1088.57 L242.73,1090.03 L243.03,1091.50 L243.34,1092.97 L243.66,1094.43 L243.98,1095.90 L244.32,1097.37 L244.65,1098.83 L245.00,1100.30 L245.35,1101.76 L245.71,1103.23 L246.07,1104.69 L246.44,1106.15 L246.81,1107.61 L247.19,1109.08 L247.57,1110.54 L247.96,1112.00 L248.36,1113.46 L248.75,1114.92 L249.16,1116.38 L249.57,1117.84 L249.98,1119.30 L250.39,1120.76 L250.81,1122.21 L251.24,1123.67 L251.67,1125.13 L252.10,1126.58 L252.53,1128.04 L252.97,1129.49 L253.41,1130.95 L253.86,1132.40 L254.31,1133.85 L254.76,1135.31 L255.21,1136.76 L255.67,1138.21 L256.13,1139.66 L256.59,1141.11 L257.05,1142.55 L257.52,1144.00 L257.99,1145.45 L258.46,1146.90 L258.93,1148.34 L259.40,1149.79 L259.88,1151.23 L260.35,1152.67 L260.83,1154.12 L261.31,1155.56 L261.79,1157.00 L262.27,1158.44 L262.75,1159.88 L263.23,1161.32 L263.71,1162.75 L264.19,1164.19 L264.67,1165.63 L265.16,1167.06 L265.64,1168.50 L266.12,1169.93 L266.60,1171.36 L267.08,1172.79 L267.56,1174.22 L268.04,1175.65 L268.52,1177.08 L269.00,1178.51 L269.48,1179.94 L269.95,1181.36 L270.42,1182.79 L270.90,1184.21 L271.37,1185.63 L271.84,1187.05 L272.30,1188.47 L272.77,1189.89 L273.23,1191.31 L273.69,1192.73 L274.15,1194.15 L274.60,1195.56 L275.06,1196.98 L275.51,1198.39 L275.95,1199.80 L276.40,1201.21 L276.84,1202.62 L277.27,1204.03 L277.71,1205.44 L278.14,1206.84 L278.56,1208.25 L278.99,1209.65 L279.40,1211.06 L279.82,1212.46 L280.23,1213.86 L280.63,1215.26 L281.03,1216.66 L281.23,1217.34 L281.23,937.20 M281.23,937.20 L281.77,938.64 L282.36,940.03 L282.99,941.40 L283.67,942.73 L284.38,944.03 L285.14,945.30 L285.93,946.55 L286.76,947.77 L287.62,948.97 L288.51,950.14 L289.42,951.30 L290.37,952.44 L291.34,953.55 L292.33,954.66 L293.34,955.75 L294.37,956.83 L295.42,957.90 L296.48,958.96 L297.56,960.01 L298.64,961.06 L299.73,962.10 L300.83,963.14 L301.93,964.18 L303.04,965.21 L304.14,966.25 L305.25,967.29 L306.34,968.33 L307.44,969.38 L308.52,970.44 L309.60,971.50 L310.66,972.58 L311.71,973.66 L312.74,974.76 L313.76,975.87 L314.75,976.99 L315.73,978.13 L316.68,979.29 L317.61,980.46 L318.52,981.65 L319.40,982.85 L320.27,984.06 L321.11,985.29 L321.94,986.54 L322.74,987.79 L323.53,989.06 L324.29,990.34 L325.03,991.64 L325.76,992.94 L326.46,994.26 L327.15,995.59 L327.82,996.92 L328.46,998.27 L329.09,999.63 L329.70,1001.00 L330.30,1002.37 L330.87,1003.75 L331.43,1005.15 L331.97,1006.55 L332.49,1007.95 L333.00,1009.37 L333.49,1010.79 L333.96,1012.22 L334.41,1013.65 L334.85,1015.09 L335.28,1016.53 L335.68,1017.98 L336.07,1019.43 L336.45,1020.89 L336.81,1022.35 L337.16,1023.81 L337.49,1025.27 L337.80,1026.74 L338.11,1028.21 L338.39,1029.68 L338.67,1031.16 L338.93,1032.63 L339.17,1034.10 L339.41,1035.58 L339.63,1037.05 L339.83,1038.52 L340.03,1040.00 L340.22,1041.47 L340.40,1042.95 L340.57,1044.42 L340.74,1045.89 L340.90,1047.37 L341.05,1048.84 L341.20,1050.31 L341.34,1051.79 L341.49,1053.26 L341.63,1054.73 L341.77,1056.21 L341.91,1057.68 L342.06,1059.15 L342.20,1060.63 L342.35,1062.10 L342.50,1063.57 L342.66,1065.04 L342.83,1066.51 L343.00,1067.99 L343.17,1069.46 L343.36,1070.93 L343.56,1072.40 L343.76,1073.87 L343.98,1075.34 L344.20,1076.81 L344.43,1078.28 L344.68,1079.75 L344.93,1081.22 L345.18,1082.69 L345.45,1084.16 L345.72,1085.63 L346.01,1087.10 L346.29,1088.57 L346.59,1090.03 L346.90,1091.50 L347.21,1092.97 L347.53,1094.43 L347.85,1095.90 L348.18,1097.37 L348.52,1098.83 L348.87,1100.30 L349.22,1101.76 L349.57,1103.23 L349.94,1104.69 L350.30,1106.15 L350.68,1107.61 L351.06,1109.08 L351.44,1110.54 L351.83,1112.00 L352.22,1113.46 L352.62,1114.92 L353.02,1116.38 L353.43,1117.84 L353.84,1119.30 L354.26,1120.76 L354.68,1122.21 L355.10,1123.67 L355.53,1125.13 L355.96,1126.58 L356.40,1128.04 L356.84,1129.49 L357.28,1130.95 L357.73,1132.40 L358.17,1133.85 L358.63,1135.31 L359.08,1136.76 L359.54,1138.21 L360.00,1139.66 L360.46,1141.11 L360.92,1142.55 L361.39,1144.00 L361.85,1145.45 L362.32,1146.90 L362.80,1148.34 L363.27,1149.79 L363.74,1151.23 L364.22,1152.67 L364.70,1154.12 L365.17,1155.56 L365.65,1157.00 L366.13,1158.44 L366.61,1159.88 L367.10,1161.32 L367.58,1162.75 L368.06,1164.19 L368.54,1165.63 L369.02,1167.06 L369.50,1168.50 L369.99,1169.93 L370.47,1171.36 L370.95,1172.79 L371.43,1174.22 L371.91,1175.65 L372.39,1177.08 L372.87,1178.51 L373.34,1179.94 L373.82,1181.36 L374.29,1182.79 L374.76,1184.21 L375.23,1185.63 L375.70,1187.05 L376.17,1188.47 L376.63,1189.89 L377.10,1191.31 L377.56,1192.73 L378.01,1194.15 L378.47,1195.56 L378.92,1196.98 L379.37,1198.39 L379.82,1199.80 L380.26,1201.21 L380.70,1202.62 L381.14,1204.03 L381.57,1205.44 L382.00,1206.84 L382.43,1208.25 L382.85,1209.65 L383.27,1211.06 L383.68,1212.46 L384.09,1213.86 L384.50,1215.26 L384.90,1216.66 L385.10,1217.34 L385.10,937.20 M385.09,937.21 L385.68,938.56 L386.30,939.89 L386.97,941.19 L387.67,942.47 L388.41,943.73 L389.19,944.97 L390.00,946.20 L390.84,947.40 L391.70,948.59 L392.60,949.77 L393.52,950.93 L394.47,952.07 L395.43,953.21 L396.42,954.33 L397.42,955.44 L398.44,956.55 L399.48,957.65 L400.52,958.74 L401.58,959.82 L402.64,960.90 L403.72,961.98 L404.79,963.06 L405.87,964.13 L406.95,965.21 L408.03,966.29 L409.11,967.36 L410.18,968.44 L411.26,969.53 L412.32,970.61 L413.38,971.70 L414.43,972.80 L415.47,973.90 L416.49,975.01 L417.51,976.13 L418.51,977.26 L419.50,978.39 L420.46,979.54 L421.42,980.69 L422.35,981.86 L423.26,983.04 L424.15,984.23 L425.01,985.43 L425.85,986.65 L426.67,987.89 L427.46,989.13 L428.23,990.39 L428.97,991.66 L429.70,992.95 L430.40,994.25 L431.08,995.56 L431.73,996.88 L432.37,998.21 L432.99,999.55 L433.58,1000.90 L434.16,1002.26 L434.72,1003.63 L435.26,1005.01 L435.78,1006.40 L436.28,1007.80 L436.77,1009.21 L437.24,1010.62 L437.69,1012.04 L438.13,1013.47 L438.55,1014.90 L438.95,1016.34 L439.34,1017.79 L439.72,1019.24 L440.08,1020.70 L440.43,1022.16 L440.77,1023.63 L441.09,1025.10 L441.41,1026.57 L441.71,1028.05 L441.99,1029.53 L442.27,1031.02 L442.54,1032.50 L442.80,1033.99 L443.05,1035.48 L443.28,1036.97 L443.51,1038.46 L443.74,1039.96 L443.95,1041.45 L444.16,1042.94 L444.36,1044.43 L444.55,1045.92 L444.74,1047.41 L444.92,1048.90 L445.10,1050.39 L445.27,1051.87 L445.44,1053.36 L445.61,1054.84 L445.78,1056.32 L445.94,1057.80 L446.11,1059.29 L446.27,1060.77 L446.43,1062.24 L446.60,1063.72 L446.76,1065.20 L446.93,1066.67 L447.11,1068.15 L447.28,1069.62 L447.46,1071.10 L447.65,1072.57 L447.84,1074.04 L448.04,1075.51 L448.24,1076.98 L448.45,1078.45 L448.67,1079.91 L448.90,1081.38 L449.14,1082.84 L449.39,1084.31 L449.64,1085.77 L449.91,1087.24 L450.19,1088.70 L450.48,1090.16 L450.78,1091.62 L451.08,1093.08 L451.40,1094.54 L451.72,1096.00 L452.05,1097.46 L452.39,1098.91 L452.74,1100.37 L453.09,1101.82 L453.45,1103.28 L453.82,1104.73 L454.19,1106.19 L454.57,1107.64 L454.96,1109.09 L455.35,1110.54 L455.75,1111.99 L456.15,1113.44 L456.55,1114.89 L456.97,1116.34 L457.38,1117.79 L457.80,1119.23 L458.22,1120.68 L458.65,1122.13 L459.08,1123.57 L459.51,1125.02 L459.94,1126.46 L460.38,1127.91 L460.82,1129.35 L461.26,1130.79 L461.70,1132.23 L462.15,1133.68 L462.59,1135.12 L463.04,1136.56 L463.48,1138.00 L463.93,1139.44 L464.38,1140.88 L464.84,1142.32 L465.29,1143.75 L465.74,1145.19 L466.20,1146.63 L466.65,1148.07 L467.11,1149.51 L467.57,1150.94 L468.03,1152.38 L468.49,1153.81 L468.95,1155.25 L469.41,1156.68 L469.87,1158.12 L470.34,1159.55 L470.80,1160.99 L471.26,1162.42 L471.73,1163.86 L472.19,1165.29 L472.66,1166.72 L473.13,1168.15 L473.59,1169.59 L474.06,1171.02 L474.53,1172.45 L474.99,1173.88 L475.46,1175.32 L475.93,1176.75 L476.40,1178.18 L476.86,1179.61 L477.33,1181.04 L477.80,1182.47 L478.27,1183.90 L478.73,1185.33 L479.20,1186.76 L479.67,1188.19 L480.14,1189.62 L480.60,1191.05 L481.07,1192.48 L481.53,1193.91 L482.00,1195.34 L482.46,1196.77 L482.93,1198.20 L483.39,1199.63 L483.85,1201.06 L484.31,1202.49 L484.78,1203.92 L485.24,1205.35 L485.69,1206.78 L486.15,1208.21 L486.61,1209.64 L487.07,1211.07 L487.52,1212.50 L487.98,1213.93 L488.43,1215.36 L488.88,1216.79 L489.33,1218.22 L489.78,1219.65 L490.23,1221.08 L490.68,1222.51 L491.12,1223.95 L491.57,1225.38 L492.01,1226.81 L492.45,1228.24 L492.89,1229.67 L493.33,1231.10 L493.76,1232.53 L494.20,1233.97 L494.63,1235.40 L495.06,1236.83 L495.49,1238.26 L495.92,1239.70 L496.34,1241.13 L496.76,1242.57 L497.18,1244.00 L497.60,1245.43 L498.02,1246.87 L498.43,1248.30 L498.85,1249.74 L499.26,1251.17 L499.66,1252.61 L500.07,1254.05 L500.47,1255.48 L500.87,1256.92 L501.27,1258.36 L501.66,1259.80 L502.05,1261.23 L502.44,1262.67 L502.83,1264.11 L503.21,1265.55 L503.60,1266.99 L503.60,1267.00" stroke="#4a7ebb"/>
<path d=" M73.70,940.20 L75.50,1137.30 L113.30,1263.50 l1.3,4.5 M177.37,1270.00 L177.37,940.50 M178.77,940.50 L180.37,1138.50 L218.17,1263.50 l1.3,4.5 M281.23,1270.00 L281.23,940.50 M282.63,940.50 L284.23,1138.50 L322.03,1263.50 l1.3,4.5 M385.10,1270.00 L385.10,940.50 M386.50,940.50 L388.10,1138.50 L425.90,1263.50 l1.3,4.5" stroke="#9bbb59"/>
</g>
<path d="M606,1047.0 H629.6" stroke="#c0504d" stroke-width="2.4"/>
<text x="632.1" y="1051.4" font-size="12.80" text-anchor="start" font-weight="normal" fill="#111" stroke="#111" stroke-width="0.25" textLength="101.3" lengthAdjust="spacingAndGlyphs">HER-2 ECD 2ng/ml</text>
<path d="M606,1096.4 H629.6" stroke="#4a7ebb" stroke-width="2.4"/>
<text x="632.1" y="1100.8" font-size="12.80" text-anchor="start" font-weight="normal" fill="#111" stroke="#111" stroke-width="0.25" textLength="108.9" lengthAdjust="spacingAndGlyphs">HER-2 ECD 20ng/ml</text>
<path d="M606,1145.8 H629.6" stroke="#9bbb59" stroke-width="2.4"/>
<text x="632.1" y="1150.2" font-size="12.80" text-anchor="start" font-weight="normal" fill="#111" stroke="#111" stroke-width="0.25" textLength="116.3" lengthAdjust="spacingAndGlyphs">HER-2 ECD 750ng/ml</text></svg></body></html>
